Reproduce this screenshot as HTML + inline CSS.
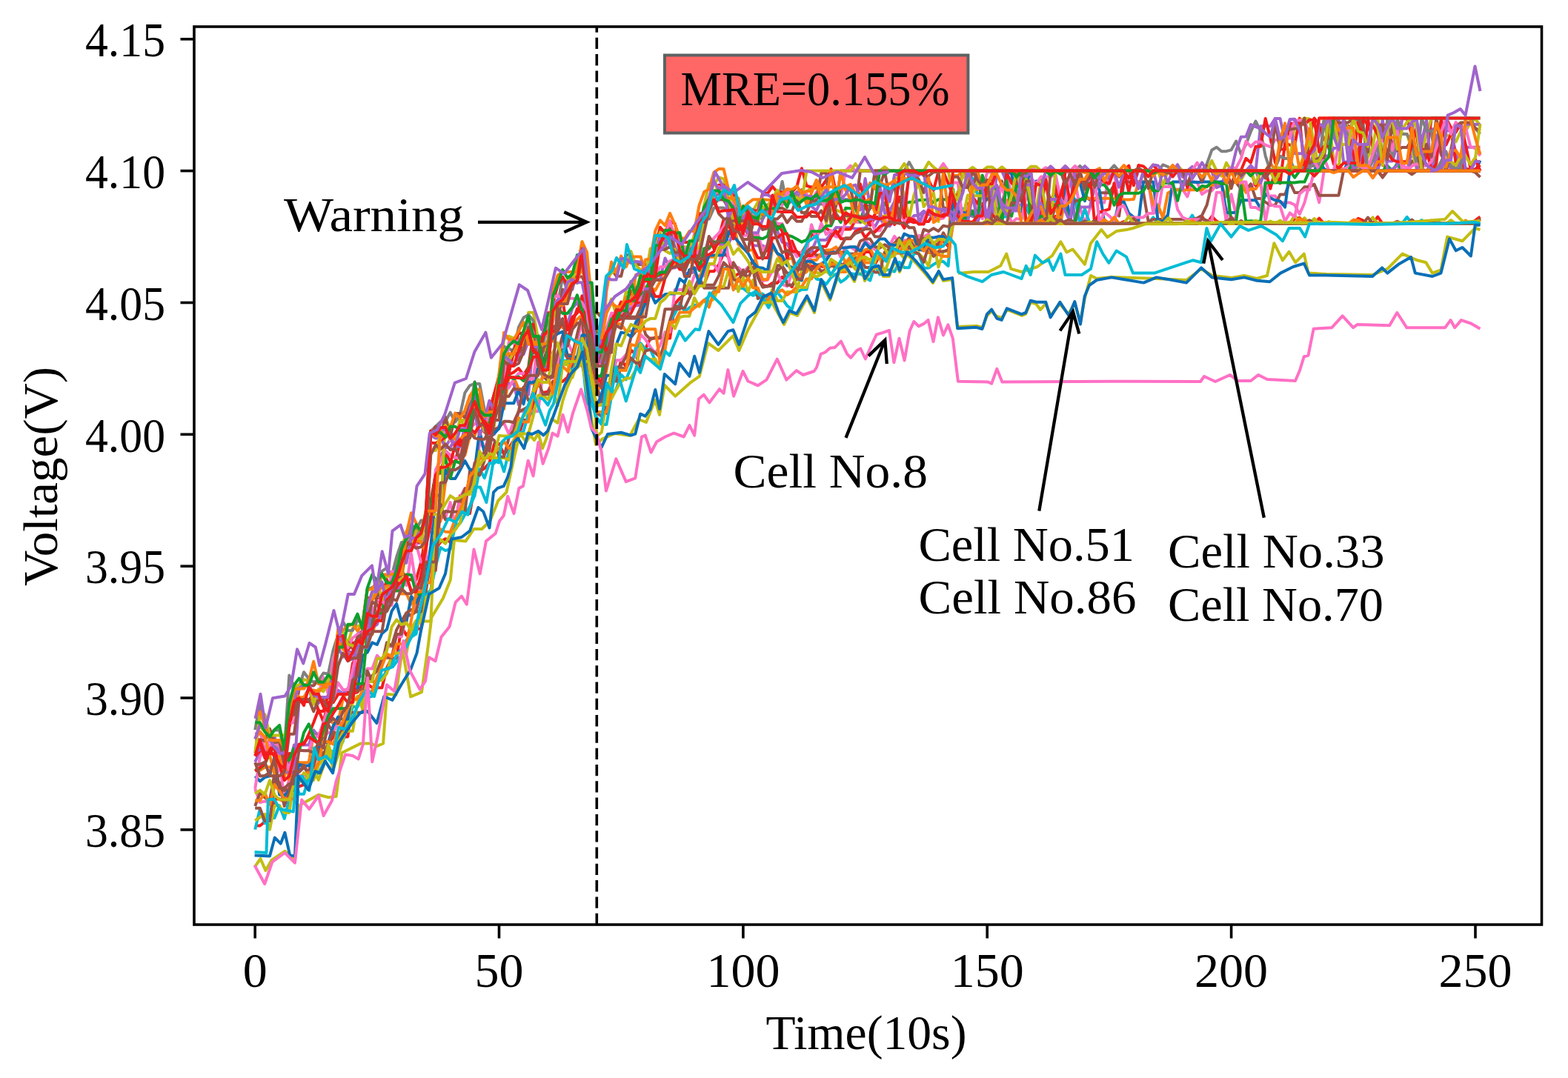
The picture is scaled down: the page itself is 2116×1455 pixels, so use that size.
<!DOCTYPE html>
<html><head><meta charset="utf-8"><title>Voltage chart</title>
<style>
html,body{margin:0;padding:0;background:#fff;}
body{width:2116px;height:1455px;overflow:hidden;}
svg{display:block;filter:blur(0.6px);}
text{font-family:'Liberation Serif','DejaVu Serif',serif;fill:#000;}
</style></head><body>
<svg width="2116" height="1455" viewBox="0 0 2116 1455">
<rect x="0" y="0" width="2116" height="1455" fill="#fff"/>
<defs><clipPath id="ax"><rect x="262.0" y="36.0" width="1818.5" height="1212.0"/></clipPath></defs>
<g clip-path="url(#ax)" fill="none" stroke-width="4.0" stroke-linejoin="round" stroke-linecap="butt">
<polyline points="344.2,1114.5 350.8,1114.5 357.4,1109.3 364.0,1106.6 370.5,1078.6 377.1,1078.6 383.7,1081.9 390.3,1072.9 396.9,1053.1 403.5,1061.6 410.1,1059.2 416.7,1040.6 423.2,1021.4 429.8,1021.4 436.4,1021.1 443.0,1006.2 449.6,992.8 456.2,1008.7 462.8,994.4 469.4,994.4 475.9,935.8 482.5,934.2 489.1,923.1 495.7,923.1 502.3,928.2 508.9,928.2 515.5,928.2 522.0,901.4 528.6,888.4 535.2,888.4 541.8,845.9 548.4,857.2 555.0,849.9 561.6,848.8 568.2,848.8 574.7,803.0 581.3,798.3 587.9,740.8 594.5,731.6 601.1,727.2 607.7,732.0 614.3,708.8 620.9,668.9 627.4,693.1 634.0,693.1 640.6,655.6 647.2,636.5 653.8,632.1 660.4,625.2 667.0,599.1 673.5,599.1 680.1,613.2 686.7,604.9 693.3,594.5 699.9,588.0 706.5,566.9 713.1,566.9 719.7,543.7 726.2,543.7 732.8,529.9 739.4,528.8 746.0,515.1 752.6,515.1 759.2,515.1 765.8,509.3 772.4,491.9 778.9,491.9 785.5,491.9 792.1,517.4 798.7,544.9 805.3,556.2 811.9,556.2 818.5,558.0 825.1,514.1 831.6,514.1 838.2,486.2 844.8,494.8 851.4,472.5 858.0,478.1 864.6,496.7 871.2,470.3 877.7,456.6 884.3,456.6 890.9,456.6 897.5,456.6 904.1,456.6 910.7,410.1 917.3,402.6 923.9,396.9 930.4,393.6 937.0,393.6 943.6,385.0 950.2,383.8 956.8,366.2 963.4,366.2 970.0,357.4 976.6,341.3 983.1,347.3 989.7,373.9 996.3,369.6 1002.9,369.6 1009.5,365.7 1016.1,367.9 1022.7,367.9 1029.2,384.9 1035.8,386.5 1042.4,382.0 1049.0,382.0 1055.6,373.8 1062.2,380.7 1068.8,387.2 1075.4,372.9 1081.9,372.9 1088.5,362.6 1095.1,359.3 1101.7,359.4 1108.3,359.4 1114.9,361.1 1121.5,355.0 1128.1,355.6 1134.6,362.9 1141.2,353.2 1147.8,359.4 1154.4,359.4 1161.0,351.3 1167.6,340.0 1174.2,340.0 1180.7,356.9 1187.3,344.3 1193.9,344.6 1200.5,344.6 1207.1,344.4 1213.7,331.2 1220.3,332.7 1226.9,332.7 1233.4,332.7 1240.0,330.5 1246.6,331.4 1253.2,331.4 1259.8,331.4 1266.4,327.1 1273.0,325.5 1279.6,332.5 1286.1,268.2 1292.7,301.8 1299.3,301.8 1305.9,274.6 1312.5,290.3 1319.1,281.0 1325.7,240.9 1332.2,267.5 1338.8,269.8 1345.4,285.6 1352.0,291.6 1358.6,281.6 1365.2,288.9 1371.8,270.2 1378.4,270.2 1384.9,301.8 1391.5,293.8 1398.1,290.8 1404.7,290.8 1411.3,301.8 1417.9,301.8 1424.5,291.9 1431.1,301.8 1437.6,301.8 1444.2,301.8 1450.8,301.8 1457.4,301.8 1464.0,301.8 1470.6,301.8 1477.2,301.8 1483.8,301.8 1490.3,301.8 1496.9,301.8 1503.5,301.8 1510.1,301.8 1516.7,299.0 1523.3,301.8 1529.9,301.8 1536.4,301.8 1543.0,301.8 1549.6,301.8 1556.2,301.8 1562.8,301.8 1569.4,301.8 1576.0,301.8 1582.6,301.8 1589.1,301.8 1595.7,301.8 1602.3,301.8 1608.9,301.8 1615.5,301.8 1622.1,292.0 1628.7,301.8 1635.3,292.0 1641.8,298.6 1648.4,301.8 1655.0,301.8 1661.6,295.2 1668.2,301.8 1674.8,301.8 1681.4,301.8 1687.9,301.8 1694.5,301.8 1701.1,301.8 1707.7,301.8 1714.3,301.8 1720.9,301.8 1727.5,301.8 1734.1,301.8 1740.6,301.8 1747.2,295.3 1753.8,293.9 1760.4,301.8 1767.0,301.8 1773.6,301.8 1780.2,294.5 1786.8,301.8 1793.3,301.8 1799.9,301.8 1806.5,301.8 1813.1,301.8 1819.7,301.8 1826.3,301.8 1832.9,294.9 1839.4,297.7 1846.0,301.8 1852.6,301.8 1859.2,292.7 1865.8,301.8 1872.4,301.8 1879.0,301.8 1885.6,301.8 1892.1,301.8 1898.7,301.8 1905.3,301.8 1911.9,301.8 1918.5,301.8 1925.1,301.8 1931.7,297.6 1938.3,301.8 1944.8,301.8 1951.4,301.8 1958.0,301.8 1964.6,301.8 1971.2,301.8 1977.8,301.8 1984.4,301.8 1991.0,297.4 1997.5,292.6" stroke="#f21c1c"/>
<polyline points="344.2,1064.7 350.8,1083.0 357.4,1081.6 364.0,1081.9 370.5,1058.9 377.1,1029.8 383.7,1076.3 390.3,1051.8 396.9,1051.8 403.5,1046.7 410.1,1046.7 416.7,1040.6 423.2,1017.0 429.8,1003.8 436.4,994.2 443.0,988.6 449.6,988.6 456.2,975.8 462.8,975.8 469.4,975.8 475.9,917.6 482.5,912.8 489.1,913.0 495.7,902.6 502.3,902.6 508.9,884.7 515.5,892.9 522.0,873.1 528.6,872.2 535.2,859.2 541.8,859.2 548.4,831.0 555.0,831.0 561.6,814.3 568.2,774.0 574.7,769.4 581.3,770.4 587.9,716.8 594.5,698.6 601.1,698.7 607.7,678.1 614.3,709.1 620.9,671.1 627.4,659.1 634.0,659.1 640.6,659.1 647.2,596.1 653.8,606.1 660.4,587.0 667.0,586.2 673.5,574.5 680.1,571.1 686.7,585.8 693.3,569.8 699.9,555.3 706.5,555.3 713.1,555.3 719.7,555.3 726.2,555.3 732.8,502.0 739.4,510.5 746.0,510.5 752.6,491.7 759.2,460.5 765.8,460.5 772.4,476.0 778.9,460.7 785.5,433.6 792.1,495.0 798.7,536.6 805.3,541.2 811.9,547.0 818.5,532.1 825.1,520.6 831.6,486.2 838.2,486.2 844.8,478.9 851.4,485.1 858.0,480.4 864.6,451.4 871.2,458.3 877.7,468.3 884.3,476.6 890.9,466.2 897.5,448.2 904.1,448.2 910.7,391.1 917.3,390.9 923.9,390.9 930.4,390.9 937.0,371.9 943.6,372.3 950.2,372.3 956.8,356.8 963.4,356.8 970.0,367.5 976.6,307.2 983.1,349.3 989.7,361.0 996.3,361.0 1002.9,367.2 1009.5,360.6 1016.1,360.6 1022.7,360.6 1029.2,379.1 1035.8,377.9 1042.4,365.3 1049.0,367.9 1055.6,384.0 1062.2,386.5 1068.8,368.6 1075.4,368.6 1081.9,352.6 1088.5,353.1 1095.1,346.0 1101.7,346.0 1108.3,346.0 1114.9,346.0 1121.5,337.6 1128.1,334.5 1134.6,347.0 1141.2,333.4 1147.8,333.4 1154.4,337.8 1161.0,337.8 1167.6,325.2 1174.2,330.6 1180.7,336.8 1187.3,331.3 1193.9,331.3 1200.5,331.3 1207.1,318.9 1213.7,328.1 1220.3,324.3 1226.9,325.8 1233.4,334.0 1240.0,318.0 1246.6,319.8 1253.2,315.8 1259.8,335.9 1266.4,318.8 1273.0,318.8 1279.6,319.9 1286.1,289.9 1292.7,289.6 1299.3,285.4 1305.9,279.7 1312.5,267.5 1319.1,278.5 1325.7,295.3 1332.2,256.9 1338.8,256.9 1345.4,301.8 1352.0,301.8 1358.6,230.6 1365.2,268.2 1371.8,243.9 1378.4,243.9 1384.9,262.3 1391.5,262.3 1398.1,293.4 1404.7,292.5 1411.3,301.8 1417.9,301.8 1424.5,297.0 1431.1,284.4 1437.6,230.6 1444.2,233.9 1450.8,245.1 1457.4,280.1 1464.0,301.8 1470.6,282.1 1477.2,268.4 1483.8,273.4 1490.3,273.4 1496.9,230.6 1503.5,230.6 1510.1,279.6 1516.7,234.8 1523.3,245.7 1529.9,245.7 1536.4,245.7 1543.0,245.7 1549.6,245.7 1556.2,287.3 1562.8,287.3 1569.4,246.4 1576.0,246.4 1582.6,255.4 1589.1,255.4 1595.7,255.4 1602.3,265.4 1608.9,245.6 1615.5,245.6 1622.1,262.2 1628.7,257.5 1635.3,257.5 1641.8,248.4 1648.4,245.6 1655.0,298.8 1661.6,262.2 1668.2,290.5 1674.8,245.6 1681.4,254.0 1687.9,254.0 1694.5,245.6 1701.1,245.6 1707.7,298.8 1714.3,264.6 1720.9,264.6 1727.5,273.4 1734.1,273.4 1740.6,273.4 1747.2,276.5 1753.8,289.2 1760.4,273.7 1767.0,248.9 1773.6,248.9 1780.2,273.2 1786.8,230.6 1793.3,230.6 1799.9,230.6 1806.5,230.6 1813.1,230.6 1819.7,230.6 1826.3,230.6 1832.9,230.6 1839.4,230.6 1846.0,230.6 1852.6,230.6 1859.2,230.6 1865.8,230.6 1872.4,230.6 1879.0,230.6 1885.6,230.6 1892.1,218.9 1898.7,230.6 1905.3,230.6 1911.9,230.6 1918.5,230.6 1925.1,230.6 1931.7,230.6 1938.3,230.6 1944.8,230.6 1951.4,230.6 1958.0,218.8 1964.6,230.6 1971.2,230.6 1977.8,230.6 1984.4,230.6 1991.0,230.6 1997.5,230.6" stroke="#ff70c4"/>
<polyline points="344.2,1119.6 350.8,1091.9 357.4,1111.1 364.0,1103.9 370.5,1103.9 377.1,1087.1 383.7,1104.9 390.3,1079.3 396.9,1044.2 403.5,1071.7 410.1,1071.7 416.7,1049.0 423.2,1048.4 429.8,1043.5 436.4,1031.2 443.0,1013.4 449.6,1014.2 456.2,1012.7 462.8,1000.5 469.4,976.0 475.9,954.1 482.5,954.1 489.1,941.6 495.7,941.6 502.3,939.9 508.9,918.7 515.5,913.3 522.0,906.8 528.6,896.0 535.2,884.4 541.8,876.2 548.4,864.0 555.0,859.7 561.6,855.6 568.2,817.0 574.7,802.3 581.3,796.5 587.9,764.3 594.5,739.0 601.1,743.1 607.7,741.0 614.3,709.3 620.9,706.4 627.4,694.6 634.0,683.5 640.6,668.9 647.2,633.0 653.8,645.2 660.4,625.2 667.0,625.2 673.5,616.4 680.1,636.4 686.7,609.5 693.3,596.6 699.9,585.5 706.5,581.9 713.1,558.4 719.7,558.4 726.2,535.8 732.8,538.6 739.4,546.6 746.0,532.0 752.6,501.3 759.2,486.8 765.8,487.0 772.4,505.1 778.9,480.7 785.5,480.7 792.1,545.3 798.7,545.3 805.3,564.4 811.9,573.0 818.5,573.0 825.1,534.8 831.6,524.9 838.2,505.7 844.8,512.3 851.4,496.1 858.0,469.3 864.6,463.4 871.2,471.6 877.7,471.6 884.3,486.9 890.9,493.9 897.5,467.9 904.1,434.0 910.7,423.4 917.3,409.1 923.9,420.4 930.4,415.3 937.0,411.7 943.6,411.7 950.2,405.2 956.8,400.0 963.4,392.9 970.0,392.9 976.6,362.6 983.1,360.5 989.7,389.1 996.3,389.1 1002.9,389.1 1009.5,394.4 1016.1,398.9 1022.7,396.6 1029.2,396.6 1035.8,403.1 1042.4,403.1 1049.0,394.0 1055.6,403.0 1062.2,412.7 1068.8,417.5 1075.4,394.2 1081.9,390.8 1088.5,390.8 1095.1,366.6 1101.7,376.5 1108.3,378.0 1114.9,383.7 1121.5,374.6 1128.1,369.8 1134.6,380.8 1141.2,376.4 1147.8,369.2 1154.4,370.1 1161.0,369.4 1167.6,374.1 1174.2,378.7 1180.7,357.6 1187.3,370.5 1193.9,364.1 1200.5,364.5 1207.1,366.6 1213.7,353.9 1220.3,361.2 1226.9,361.2 1233.4,342.1 1240.0,342.1 1246.6,362.1 1253.2,361.5 1259.8,356.9 1266.4,353.1 1273.0,353.1 1279.6,359.0 1286.1,281.5 1292.7,281.5 1299.3,281.5 1305.9,300.0 1312.5,240.6 1319.1,262.7 1325.7,262.7 1332.2,262.7 1338.8,262.7 1345.4,262.7 1352.0,292.5 1358.6,292.5 1365.2,282.1 1371.8,279.9 1378.4,279.9 1384.9,279.9 1391.5,294.7 1398.1,301.8 1404.7,279.9 1411.3,279.9 1417.9,269.6 1424.5,271.4 1431.1,294.1 1437.6,265.7 1444.2,268.4 1450.8,268.4 1457.4,301.8 1464.0,281.9 1470.6,301.8 1477.2,301.8 1483.8,301.7 1490.3,301.8 1496.9,301.8 1503.5,301.8 1510.1,301.8 1516.7,301.8 1523.3,301.8 1529.9,301.8 1536.4,301.8 1543.0,301.8 1549.6,301.8 1556.2,293.4 1562.8,301.8 1569.4,298.7 1576.0,301.8 1582.6,301.8 1589.1,301.8 1595.7,301.8 1602.3,301.8 1608.9,290.6 1615.5,301.8 1622.1,301.8 1628.7,301.8 1635.3,301.8 1641.8,301.8 1648.4,301.8 1655.0,301.8 1661.6,301.8 1668.2,301.8 1674.8,301.8 1681.4,301.8 1687.9,301.8 1694.5,301.8 1701.1,301.8 1707.7,301.8 1714.3,301.8 1720.9,301.8 1727.5,301.8 1734.1,301.8 1740.6,301.8 1747.2,301.8 1753.8,301.8 1760.4,301.8 1767.0,301.8 1773.6,301.8 1780.2,301.8 1786.8,301.8 1793.3,301.8 1799.9,301.8 1806.5,301.8 1813.1,301.8 1819.7,301.8 1826.3,301.8 1832.9,301.8 1839.4,301.8 1846.0,301.8 1852.6,301.8 1859.2,301.8 1865.8,301.8 1872.4,301.8 1879.0,301.8 1885.6,301.8 1892.1,301.8 1898.7,292.9 1905.3,301.8 1911.9,301.8 1918.5,297.1 1925.1,301.8 1931.7,301.8 1938.3,297.0 1944.8,301.8 1951.4,301.8 1958.0,301.8 1964.6,301.8 1971.2,301.8 1977.8,299.5 1984.4,301.8 1991.0,301.8 1997.5,301.8" stroke="#00bcd4"/>
<polyline points="344.2,1088.0 350.8,1070.1 357.4,1076.6 364.0,1080.6 370.5,1044.3 377.1,1066.8 383.7,1066.8 390.3,1065.3 396.9,1042.0 403.5,1042.0 410.1,1036.0 416.7,1043.3 423.2,1017.0 429.8,1017.0 436.4,989.5 443.0,978.1 449.6,989.3 456.2,989.3 462.8,989.3 469.4,961.8 475.9,961.8 482.5,961.8 489.1,961.8 495.7,905.4 502.3,920.1 508.9,920.1 515.5,896.3 522.0,867.2 528.6,871.9 535.2,850.0 541.8,838.3 548.4,827.5 555.0,830.8 561.6,825.0 568.2,798.4 574.7,798.4 581.3,757.0 587.9,718.3 594.5,700.5 601.1,690.1 607.7,690.7 614.3,690.7 620.9,690.7 627.4,690.7 634.0,636.1 640.6,634.4 647.2,641.6 653.8,621.2 660.4,593.0 667.0,579.1 673.5,577.3 680.1,568.7 686.7,568.7 693.3,570.2 699.9,555.6 706.5,552.6 713.1,548.6 719.7,527.7 726.2,499.4 732.8,507.6 739.4,514.0 746.0,505.6 752.6,476.5 759.2,453.4 765.8,479.2 772.4,479.2 778.9,451.2 785.5,424.8 792.1,504.8 798.7,519.5 805.3,519.5 811.9,545.6 818.5,517.6 825.1,517.6 831.6,496.5 838.2,492.9 844.8,481.4 851.4,455.6 858.0,447.3 864.6,428.1 871.2,451.3 877.7,458.1 884.3,455.4 890.9,455.4 897.5,417.2 904.1,417.2 910.7,417.2 917.3,417.2 923.9,384.3 930.4,397.2 937.0,389.5 943.6,374.6 950.2,388.7 956.8,388.7 963.4,388.7 970.0,388.7 976.6,388.7 983.1,388.7 989.7,354.3 996.3,365.0 1002.9,374.6 1009.5,362.5 1016.1,351.9 1022.7,374.5 1029.2,387.7 1035.8,386.3 1042.4,386.3 1049.0,365.8 1055.6,359.2 1062.2,368.7 1068.8,368.7 1075.4,368.4 1081.9,348.2 1088.5,346.6 1095.1,338.2 1101.7,344.4 1108.3,344.4 1114.9,339.7 1121.5,339.7 1128.1,340.6 1134.6,340.9 1141.2,340.3 1147.8,342.8 1154.4,342.2 1161.0,325.3 1167.6,322.5 1174.2,322.5 1180.7,333.0 1187.3,334.6 1193.9,330.2 1200.5,335.0 1207.1,328.2 1213.7,321.2 1220.3,330.6 1226.9,320.8 1233.4,334.2 1240.0,324.3 1246.6,321.7 1253.2,327.2 1259.8,327.2 1266.4,332.1 1273.0,314.3 1279.6,326.3 1286.1,270.3 1292.7,288.9 1299.3,255.5 1305.9,236.1 1312.5,254.2 1319.1,230.7 1325.7,260.9 1332.2,269.5 1338.8,243.5 1345.4,272.4 1352.0,244.4 1358.6,281.9 1365.2,287.9 1371.8,239.7 1378.4,256.6 1384.9,244.7 1391.5,237.3 1398.1,301.8 1404.7,301.8 1411.3,301.8 1417.9,301.8 1424.5,276.0 1431.1,276.0 1437.6,278.5 1444.2,287.5 1450.8,270.9 1457.4,270.9 1464.0,263.7 1470.6,269.8 1477.2,269.8 1483.8,260.2 1490.3,260.2 1496.9,260.2 1503.5,250.1 1510.1,291.6 1516.7,245.6 1523.3,245.6 1529.9,245.6 1536.4,245.6 1543.0,259.9 1549.6,298.8 1556.2,296.1 1562.8,296.1 1569.4,296.1 1576.0,296.1 1582.6,296.1 1589.1,296.1 1595.7,296.1 1602.3,296.1 1608.9,296.1 1615.5,294.4 1622.1,290.7 1628.7,276.6 1635.3,248.1 1641.8,248.1 1648.4,245.6 1655.0,246.0 1661.6,246.0 1668.2,246.0 1674.8,255.6 1681.4,255.6 1687.9,248.2 1694.5,268.1 1701.1,268.1 1707.7,272.9 1714.3,276.9 1720.9,276.9 1727.5,262.4 1734.1,262.4 1740.6,245.6 1747.2,260.0 1753.8,260.0 1760.4,252.3 1767.0,252.3 1773.6,248.9 1780.2,263.7 1786.8,263.7 1793.3,263.7 1799.9,263.7 1806.5,263.7 1813.1,230.6 1819.7,230.6 1826.3,228.3 1832.9,227.3 1839.4,225.5 1846.0,230.6 1852.6,227.2 1859.2,222.9 1865.8,220.9 1872.4,230.6 1879.0,230.6 1885.6,230.6 1892.1,230.6 1898.7,230.6 1905.3,217.4 1911.9,221.9 1918.5,230.6 1925.1,230.6 1931.7,222.2 1938.3,230.6 1944.8,230.6 1951.4,230.6 1958.0,230.6 1964.6,230.6 1971.2,230.6 1977.8,227.0 1984.4,230.6 1991.0,230.6 1997.5,230.6" stroke="#9a5246"/>
<polyline points="344.2,1107.6 350.8,1103.0 357.4,1098.9 364.0,1119.7 370.5,1087.6 377.1,1087.6 383.7,1096.9 390.3,1096.9 396.9,1055.1 403.5,1052.6 410.1,1052.9 416.7,1047.5 423.2,1052.9 429.8,1033.2 436.4,1024.3 443.0,1015.0 449.6,1037.8 456.2,1019.9 462.8,998.6 469.4,972.2 475.9,948.3 482.5,939.6 489.1,956.5 495.7,936.6 502.3,934.1 508.9,918.0 515.5,918.2 522.0,908.8 528.6,883.0 535.2,881.6 541.8,881.6 548.4,882.1 555.0,847.8 561.6,837.6 568.2,837.6 574.7,806.5 581.3,800.8 587.9,738.8 594.5,728.1 601.1,733.7 607.7,721.5 614.3,715.0 620.9,705.5 627.4,665.5 634.0,664.5 640.6,632.4 647.2,627.8 653.8,617.9 660.4,617.9 667.0,617.9 673.5,617.9 680.1,617.9 686.7,620.9 693.3,593.5 699.9,585.6 706.5,585.6 713.1,585.6 719.7,561.4 726.2,533.4 732.8,533.4 739.4,538.9 746.0,527.5 752.6,547.4 759.2,492.0 765.8,492.0 772.4,509.7 778.9,489.8 785.5,488.1 792.1,488.1 798.7,488.1 805.3,589.1 811.9,583.3 818.5,541.5 825.1,538.2 831.6,525.9 838.2,515.0 844.8,510.6 851.4,510.6 858.0,498.9 864.6,464.9 871.2,481.5 877.7,485.3 884.3,484.4 890.9,498.2 897.5,456.7 904.1,433.3 910.7,443.4 917.3,428.0 923.9,426.7 930.4,426.7 937.0,402.0 943.6,413.9 950.2,405.3 956.8,407.9 963.4,403.5 970.0,386.8 976.6,386.8 983.1,364.9 989.7,364.9 996.3,393.5 1002.9,374.6 1009.5,393.6 1016.1,378.1 1022.7,399.5 1029.2,399.5 1035.8,410.0 1042.4,390.2 1049.0,405.9 1055.6,405.9 1062.2,394.1 1068.8,394.1 1075.4,394.1 1081.9,363.6 1088.5,359.2 1095.1,367.8 1101.7,367.8 1108.3,369.2 1114.9,365.5 1121.5,372.0 1128.1,358.9 1134.6,360.8 1141.2,360.8 1147.8,350.1 1154.4,346.1 1161.0,355.2 1167.6,349.9 1174.2,349.9 1180.7,349.0 1187.3,348.0 1193.9,367.9 1200.5,349.0 1207.1,340.7 1213.7,340.7 1220.3,349.0 1226.9,339.6 1233.4,339.6 1240.0,342.4 1246.6,348.6 1253.2,359.2 1259.8,326.5 1266.4,360.5 1273.0,339.1 1279.6,339.1 1286.1,282.6 1292.7,258.1 1299.3,294.6 1305.9,263.5 1312.5,263.5 1319.1,245.1 1325.7,256.4 1332.2,301.8 1338.8,301.8 1345.4,292.1 1352.0,270.1 1358.6,276.1 1365.2,276.1 1371.8,279.7 1378.4,279.7 1384.9,301.8 1391.5,290.0 1398.1,301.8 1404.7,301.8 1411.3,301.8 1417.9,301.8 1424.5,301.8 1431.1,298.1 1437.6,301.8 1444.2,301.8 1450.8,301.8 1457.4,301.8 1464.0,301.8 1470.6,301.8 1477.2,301.8 1483.8,301.8 1490.3,301.8 1496.9,301.8 1503.5,301.8 1510.1,301.8 1516.7,301.8 1523.3,301.8 1529.9,301.8 1536.4,301.8 1543.0,301.8 1549.6,301.8 1556.2,301.8 1562.8,301.8 1569.4,301.8 1576.0,292.4 1582.6,301.8 1589.1,301.8 1595.7,301.8 1602.3,301.8 1608.9,301.8 1615.5,301.8 1622.1,301.8 1628.7,301.8 1635.3,301.8 1641.8,301.8 1648.4,301.8 1655.0,301.8 1661.6,301.8 1668.2,301.8 1674.8,301.8 1681.4,301.8 1687.9,301.8 1694.5,301.8 1701.1,301.8 1707.7,301.8 1714.3,298.6 1720.9,301.8 1727.5,297.6 1734.1,301.8 1740.6,301.8 1747.2,290.3 1753.8,301.8 1760.4,294.0 1767.0,301.8 1773.6,295.0 1780.2,301.8 1786.8,301.8 1793.3,299.1 1799.9,301.8 1806.5,301.8 1813.1,301.8 1819.7,301.8 1826.3,301.8 1832.9,301.8 1839.4,301.8 1846.0,301.8 1852.6,293.4 1859.2,301.8 1865.8,301.8 1872.4,301.8 1879.0,301.8 1885.6,301.8 1892.1,301.8 1898.7,301.8 1905.3,301.8 1911.9,301.8 1918.5,301.8 1925.1,301.8 1931.7,301.8 1938.3,301.8 1944.8,301.8 1951.4,301.8 1958.0,301.8 1964.6,301.8 1971.2,301.8 1977.8,297.4 1984.4,301.8 1991.0,301.8 1997.5,296.0" stroke="#c2bd12"/>
<polyline points="344.2,1037.6 350.8,1039.7 357.4,1035.5 364.0,1035.2 370.5,1032.8 377.1,1027.3 383.7,1027.3 390.3,1051.7 396.9,1025.5 403.5,1029.3 410.1,1029.3 416.7,1029.3 423.2,990.3 429.8,990.3 436.4,993.0 443.0,969.3 449.6,976.5 456.2,976.5 462.8,942.6 469.4,933.7 475.9,916.0 482.5,901.3 489.1,867.8 495.7,862.2 502.3,856.1 508.9,832.5 515.5,832.5 522.0,788.0 528.6,784.7 535.2,784.7 541.8,801.5 548.4,801.2 555.0,815.7 561.6,805.4 568.2,805.0 574.7,734.1 581.3,703.4 587.9,703.4 594.5,703.4 601.1,650.6 607.7,627.9 614.3,621.8 620.9,615.8 627.4,614.5 634.0,588.5 640.6,588.5 647.2,567.1 653.8,583.8 660.4,583.4 667.0,561.3 673.5,509.4 680.1,552.0 686.7,509.5 693.3,509.5 699.9,524.9 706.5,524.5 713.1,517.8 719.7,517.8 726.2,461.3 732.8,474.6 739.4,458.9 746.0,460.5 752.6,426.8 759.2,442.1 765.8,442.1 772.4,440.4 778.9,430.9 785.5,424.9 792.1,453.7 798.7,493.1 805.3,523.9 811.9,523.9 818.5,500.0 825.1,467.2 831.6,436.6 838.2,437.5 844.8,446.8 851.4,446.8 858.0,446.8 864.6,446.8 871.2,387.0 877.7,387.2 884.3,392.0 890.9,379.9 897.5,372.2 904.1,355.4 910.7,355.4 917.3,363.3 923.9,363.3 930.4,344.9 937.0,367.5 943.6,376.5 950.2,357.8 956.8,346.7 963.4,346.7 970.0,341.8 976.6,314.2 983.1,319.0 989.7,302.4 996.3,329.8 1002.9,335.3 1009.5,337.5 1016.1,337.5 1022.7,361.1 1029.2,377.2 1035.8,377.2 1042.4,333.7 1049.0,341.8 1055.6,353.2 1062.2,350.2 1068.8,348.1 1075.4,371.0 1081.9,370.4 1088.5,367.0 1095.1,351.0 1101.7,351.0 1108.3,342.2 1114.9,337.6 1121.5,337.6 1128.1,333.4 1134.6,340.1 1141.2,354.9 1147.8,346.2 1154.4,342.5 1161.0,342.9 1167.6,337.1 1174.2,335.1 1180.7,348.7 1187.3,348.7 1193.9,348.7 1200.5,337.8 1207.1,329.6 1213.7,329.6 1220.3,327.2 1226.9,324.4 1233.4,324.4 1240.0,337.8 1246.6,331.5 1253.2,341.1 1259.8,341.1 1266.4,343.5 1273.0,318.3 1279.6,327.1 1286.1,236.9 1292.7,236.9 1299.3,230.6 1305.9,245.1 1312.5,230.6 1319.1,231.3 1325.7,250.8 1332.2,244.4 1338.8,250.7 1345.4,286.5 1352.0,272.7 1358.6,272.7 1365.2,263.2 1371.8,263.2 1378.4,251.3 1384.9,251.3 1391.5,251.3 1398.1,251.3 1404.7,240.7 1411.3,247.5 1417.9,270.9 1424.5,279.1 1431.1,301.8 1437.6,267.1 1444.2,242.9 1450.8,232.5 1457.4,232.5 1464.0,267.8 1470.6,267.8 1477.2,267.8 1483.8,267.8 1490.3,267.8 1496.9,267.8 1503.5,267.8 1510.1,267.8 1516.7,269.6 1523.3,269.6 1529.9,269.0 1536.4,245.6 1543.0,245.6 1549.6,245.6 1556.2,276.6 1562.8,276.6 1569.4,294.5 1576.0,260.7 1582.6,256.5 1589.1,256.5 1595.7,256.5 1602.3,256.3 1608.9,256.3 1615.5,256.3 1622.1,256.3 1628.7,251.2 1635.3,249.6 1641.8,249.6 1648.4,250.3 1655.0,265.5 1661.6,245.6 1668.2,245.6 1674.8,245.6 1681.4,259.8 1687.9,255.1 1694.5,255.1 1701.1,245.6 1707.7,230.6 1714.3,219.7 1720.9,230.6 1727.5,228.3 1734.1,230.6 1740.6,230.6 1747.2,225.5 1753.8,230.6 1760.4,230.6 1767.0,230.6 1773.6,230.6 1780.2,230.6 1786.8,230.6 1793.3,230.6 1799.9,230.6 1806.5,222.3 1813.1,230.6 1819.7,230.6 1826.3,230.6 1832.9,230.6 1839.4,218.6 1846.0,230.6 1852.6,230.6 1859.2,230.6 1865.8,230.6 1872.4,230.6 1879.0,230.6 1885.6,230.6 1892.1,230.6 1898.7,228.4 1905.3,230.6 1911.9,230.6 1918.5,230.6 1925.1,230.6 1931.7,225.5 1938.3,230.6 1944.8,230.6 1951.4,230.6 1958.0,230.6 1964.6,230.6 1971.2,230.6 1977.8,230.6 1984.4,230.6 1991.0,230.6 1997.5,230.6" stroke="#ff7f0e"/>
<polyline points="344.2,1028.5 350.8,1014.7 357.4,1015.3 364.0,1015.5 370.5,993.4 377.1,1026.7 383.7,1019.2 390.3,1029.8 396.9,1005.6 403.5,1005.6 410.1,1005.6 416.7,1005.6 423.2,985.5 429.8,994.2 436.4,976.3 443.0,969.3 449.6,938.8 456.2,931.6 462.8,936.4 469.4,929.2 475.9,929.2 482.5,855.7 489.1,852.1 495.7,849.4 502.3,846.9 508.9,842.8 515.5,823.6 522.0,815.7 528.6,801.5 535.2,795.8 541.8,791.5 548.4,778.8 555.0,796.8 561.6,796.8 568.2,788.9 574.7,743.3 581.3,682.7 587.9,640.6 594.5,615.6 601.1,604.0 607.7,604.0 614.3,591.7 620.9,602.9 627.4,584.8 634.0,564.8 640.6,544.0 647.2,553.3 653.8,573.0 660.4,560.5 667.0,542.2 673.5,536.7 680.1,517.8 686.7,517.8 693.3,517.8 699.9,546.4 706.5,532.8 713.1,532.8 719.7,459.5 726.2,464.6 732.8,449.0 739.4,436.3 746.0,425.8 752.6,425.8 759.2,437.4 765.8,437.4 772.4,416.0 778.9,408.2 785.5,422.8 792.1,450.1 798.7,483.9 805.3,517.3 811.9,504.7 818.5,489.5 825.1,459.0 831.6,416.6 838.2,424.7 844.8,424.7 851.4,413.8 858.0,411.4 864.6,376.9 871.2,378.2 877.7,378.2 884.3,376.4 890.9,377.1 897.5,348.5 904.1,361.4 910.7,361.4 917.3,359.2 923.9,369.0 930.4,369.0 937.0,366.9 943.6,356.9 950.2,344.6 956.8,321.7 963.4,329.2 970.0,329.2 976.6,329.2 983.1,329.2 989.7,314.9 996.3,311.2 1002.9,306.6 1009.5,315.4 1016.1,331.4 1022.7,331.4 1029.2,331.4 1035.8,336.6 1042.4,311.8 1049.0,311.8 1055.6,326.8 1062.2,329.0 1068.8,340.6 1075.4,340.6 1081.9,342.1 1088.5,338.9 1095.1,338.9 1101.7,324.0 1108.3,324.0 1114.9,324.0 1121.5,315.7 1128.1,307.1 1134.6,307.3 1141.2,307.3 1147.8,307.3 1154.4,308.7 1161.0,308.7 1167.6,307.6 1174.2,300.1 1180.7,306.0 1187.3,294.4 1193.9,304.3 1200.5,305.3 1207.1,297.3 1213.7,299.4 1220.3,302.5 1226.9,299.7 1233.4,290.9 1240.0,290.7 1246.6,284.8 1253.2,289.7 1259.8,289.3 1266.4,289.3 1273.0,291.1 1279.6,278.9 1286.1,269.8 1292.7,279.8 1299.3,299.9 1305.9,288.7 1312.5,292.2 1319.1,292.6 1325.7,283.9 1332.2,283.9 1338.8,292.3 1345.4,230.6 1352.0,230.6 1358.6,246.4 1365.2,276.6 1371.8,276.6 1378.4,276.6 1384.9,276.6 1391.5,280.6 1398.1,280.6 1404.7,280.6 1411.3,301.8 1417.9,283.2 1424.5,278.6 1431.1,271.3 1437.6,282.1 1444.2,230.6 1450.8,301.8 1457.4,279.5 1464.0,279.5 1470.6,279.5 1477.2,253.8 1483.8,230.6 1490.3,230.6 1496.9,230.6 1503.5,230.6 1510.1,230.6 1516.7,230.6 1523.3,230.6 1529.9,249.0 1536.4,230.6 1543.0,230.6 1549.6,230.6 1556.2,230.6 1562.8,230.6 1569.4,230.6 1576.0,230.6 1582.6,230.6 1589.1,230.6 1595.7,230.6 1602.3,230.6 1608.9,224.9 1615.5,230.6 1622.1,245.9 1628.7,230.6 1635.3,230.6 1641.8,253.3 1648.4,250.1 1655.0,230.6 1661.6,230.6 1668.2,230.6 1674.8,230.6 1681.4,230.6 1687.9,223.4 1694.5,230.6 1701.1,247.0 1707.7,230.6 1714.3,230.6 1720.9,239.8 1727.5,230.6 1734.1,230.6 1740.6,230.6 1747.2,230.6 1753.8,230.6 1760.4,230.6 1767.0,230.6 1773.6,200.7 1780.2,182.1 1786.8,163.3 1793.3,163.3 1799.9,172.9 1806.5,159.5 1813.1,218.5 1819.7,218.5 1826.3,230.6 1832.9,206.2 1839.4,168.3 1846.0,206.8 1852.6,206.8 1859.2,229.8 1865.8,208.8 1872.4,217.4 1879.0,217.4 1885.6,195.9 1892.1,230.6 1898.7,230.6 1905.3,205.4 1911.9,223.1 1918.5,185.1 1925.1,174.2 1931.7,174.2 1938.3,174.2 1944.8,165.9 1951.4,176.6 1958.0,176.6 1964.6,206.3 1971.2,230.3 1977.8,198.8 1984.4,198.8 1991.0,198.8 1997.5,198.8" stroke="#a064cc"/>
<polyline points="344.2,1047.6 350.8,1054.4 357.4,1049.2 364.0,1047.3 370.5,1020.9 377.1,1072.5 383.7,1074.1 390.3,1066.8 396.9,1066.8 403.5,1031.7 410.1,1033.4 416.7,1033.4 423.2,1027.9 429.8,1008.1 436.4,1002.1 443.0,1002.1 449.6,980.2 456.2,967.7 462.8,971.2 469.4,970.6 475.9,930.2 482.5,930.2 489.1,885.5 495.7,880.5 502.3,867.3 508.9,870.0 515.5,855.0 522.0,849.4 528.6,824.9 535.2,814.8 541.8,839.3 548.4,839.3 555.0,805.0 561.6,813.4 568.2,801.5 574.7,784.2 581.3,736.7 587.9,667.9 594.5,669.2 601.1,634.4 607.7,645.9 614.3,645.9 620.9,634.4 627.4,622.1 634.0,633.7 640.6,633.7 647.2,581.6 653.8,610.7 660.4,591.0 667.0,584.8 673.5,578.3 680.1,544.2 686.7,544.2 693.3,544.2 699.9,526.7 706.5,545.4 713.1,516.3 719.7,516.3 726.2,497.2 732.8,490.7 739.4,465.9 746.0,456.1 752.6,450.3 759.2,447.5 765.8,482.1 772.4,482.1 778.9,482.1 785.5,452.4 792.1,452.4 798.7,524.4 805.3,549.7 811.9,531.8 818.5,506.7 825.1,506.7 831.6,465.3 838.2,448.6 844.8,449.9 851.4,454.1 858.0,435.1 864.6,424.4 871.2,408.5 877.7,394.8 884.3,408.9 890.9,402.5 897.5,397.2 904.1,396.5 910.7,396.5 917.3,376.3 923.9,381.6 930.4,364.2 937.0,361.3 943.6,383.3 950.2,363.0 956.8,344.5 963.4,344.5 970.0,344.5 976.6,344.5 983.1,312.3 989.7,318.6 996.3,326.2 1002.9,334.5 1009.5,341.6 1016.1,353.9 1022.7,361.1 1029.2,361.7 1035.8,365.2 1042.4,328.9 1049.0,342.0 1055.6,345.5 1062.2,358.3 1068.8,360.8 1075.4,375.6 1081.9,378.5 1088.5,352.8 1095.1,352.8 1101.7,357.7 1108.3,356.6 1114.9,351.4 1121.5,341.1 1128.1,341.1 1134.6,334.6 1141.2,334.6 1147.8,333.2 1154.4,333.2 1161.0,339.3 1167.6,327.6 1174.2,334.9 1180.7,329.3 1187.3,322.4 1193.9,322.4 1200.5,329.9 1207.1,331.0 1213.7,329.7 1220.3,315.6 1226.9,318.5 1233.4,319.2 1240.0,336.8 1246.6,338.1 1253.2,320.6 1259.8,320.7 1266.4,319.4 1273.0,319.0 1279.6,328.0 1286.1,274.3 1292.7,286.5 1299.3,286.5 1305.9,288.6 1312.5,288.6 1319.1,285.8 1325.7,279.2 1332.2,265.7 1338.8,248.5 1345.4,287.9 1352.0,288.4 1358.6,230.6 1365.2,234.9 1371.8,276.0 1378.4,294.6 1384.9,230.6 1391.5,247.3 1398.1,244.5 1404.7,244.5 1411.3,301.8 1417.9,268.9 1424.5,260.7 1431.1,289.1 1437.6,248.4 1444.2,301.8 1450.8,246.8 1457.4,246.8 1464.0,271.2 1470.6,237.1 1477.2,230.6 1483.8,257.6 1490.3,300.3 1496.9,300.3 1503.5,300.3 1510.1,273.0 1516.7,272.6 1523.3,287.8 1529.9,293.1 1536.4,298.8 1543.0,245.6 1549.6,245.6 1556.2,245.6 1562.8,298.8 1569.4,298.8 1576.0,290.0 1582.6,245.6 1589.1,245.6 1595.7,245.6 1602.3,245.6 1608.9,245.6 1615.5,246.3 1622.1,245.6 1628.7,245.6 1635.3,245.6 1641.8,245.6 1648.4,245.6 1655.0,287.1 1661.6,287.1 1668.2,287.1 1674.8,270.2 1681.4,270.2 1687.9,270.2 1694.5,270.2 1701.1,281.3 1707.7,261.8 1714.3,267.3 1720.9,270.3 1727.5,271.4 1734.1,279.6 1740.6,230.6 1747.2,230.6 1753.8,230.6 1760.4,223.7 1767.0,230.6 1773.6,230.6 1780.2,216.8 1786.8,228.1 1793.3,230.6 1799.9,230.6 1806.5,230.6 1813.1,230.6 1819.7,217.6 1826.3,222.7 1832.9,230.6 1839.4,223.9 1846.0,230.6 1852.6,230.6 1859.2,230.6 1865.8,230.6 1872.4,230.6 1879.0,230.6 1885.6,230.6 1892.1,230.6 1898.7,230.6 1905.3,230.6 1911.9,230.6 1918.5,230.6 1925.1,230.6 1931.7,230.6 1938.3,230.6 1944.8,225.1 1951.4,230.6 1958.0,230.6 1964.6,230.6 1971.2,230.6 1977.8,230.6 1984.4,230.6 1991.0,230.6 1997.5,216.7" stroke="#0a6fb6"/>
<polyline points="344.2,1020.5 350.8,1013.6 357.4,997.0 364.0,988.5 370.5,1003.4 377.1,1028.0 383.7,1044.9 390.3,1016.9 396.9,1016.9 403.5,1004.6 410.1,1004.6 416.7,990.9 423.2,975.3 429.8,957.7 436.4,973.9 443.0,948.1 449.6,948.1 456.2,937.1 462.8,937.1 469.4,937.1 475.9,895.6 482.5,884.6 489.1,851.4 495.7,843.9 502.3,835.4 508.9,829.1 515.5,809.4 522.0,824.5 528.6,783.7 535.2,772.7 541.8,769.5 548.4,781.0 555.0,782.6 561.6,782.6 568.2,759.0 574.7,721.9 581.3,676.5 587.9,638.8 594.5,638.8 601.1,610.6 607.7,623.2 614.3,623.2 620.9,596.2 627.4,593.4 634.0,561.9 640.6,561.9 647.2,561.9 653.8,582.4 660.4,554.3 667.0,531.5 673.5,510.7 680.1,496.6 686.7,505.7 693.3,502.4 699.9,497.1 706.5,506.2 713.1,495.7 719.7,449.5 726.2,456.0 732.8,456.0 739.4,422.2 746.0,421.7 752.6,416.8 759.2,405.0 765.8,445.6 772.4,428.1 778.9,422.8 785.5,399.2 792.1,433.0 798.7,485.8 805.3,507.9 811.9,518.4 818.5,466.5 825.1,446.6 831.6,421.7 838.2,407.6 844.8,416.1 851.4,412.2 858.0,412.2 864.6,407.1 871.2,407.1 877.7,382.0 884.3,373.9 890.9,370.5 897.5,368.3 904.1,353.1 910.7,353.1 917.3,353.6 923.9,353.0 930.4,353.0 937.0,338.5 943.6,359.3 950.2,343.7 956.8,343.7 963.4,339.4 970.0,320.6 976.6,296.3 983.1,296.3 989.7,301.9 996.3,301.8 1002.9,296.8 1009.5,317.3 1016.1,315.4 1022.7,323.8 1029.2,341.4 1035.8,337.9 1042.4,302.1 1049.0,302.1 1055.6,312.1 1062.2,349.9 1068.8,325.4 1075.4,341.3 1081.9,341.3 1088.5,330.0 1095.1,316.7 1101.7,316.7 1108.3,311.3 1114.9,308.2 1121.5,312.9 1128.1,318.9 1134.6,309.4 1141.2,309.4 1147.8,309.4 1154.4,297.1 1161.0,300.2 1167.6,296.0 1174.2,304.1 1180.7,293.6 1187.3,292.6 1193.9,292.5 1200.5,284.8 1207.1,303.1 1213.7,293.6 1220.3,284.2 1226.9,298.1 1233.4,300.4 1240.0,299.0 1246.6,298.9 1253.2,298.9 1259.8,288.1 1266.4,295.5 1273.0,289.4 1279.6,290.4 1286.1,261.7 1292.7,265.4 1299.3,230.6 1305.9,250.7 1312.5,265.9 1319.1,274.4 1325.7,274.4 1332.2,300.4 1338.8,289.3 1345.4,296.6 1352.0,296.6 1358.6,233.9 1365.2,247.2 1371.8,252.6 1378.4,243.7 1384.9,261.4 1391.5,276.6 1398.1,301.8 1404.7,283.2 1411.3,241.5 1417.9,279.0 1424.5,249.9 1431.1,288.8 1437.6,230.6 1444.2,230.6 1450.8,234.3 1457.4,243.2 1464.0,249.5 1470.6,230.6 1477.2,301.1 1483.8,286.5 1490.3,284.4 1496.9,282.3 1503.5,247.3 1510.1,283.9 1516.7,230.6 1523.3,259.0 1529.9,230.6 1536.4,230.6 1543.0,230.6 1549.6,230.6 1556.2,222.6 1562.8,230.6 1569.4,230.6 1576.0,230.6 1582.6,230.6 1589.1,228.4 1595.7,230.6 1602.3,253.2 1608.9,230.6 1615.5,230.6 1622.1,230.6 1628.7,224.5 1635.3,230.6 1641.8,230.6 1648.4,230.6 1655.0,230.6 1661.6,230.6 1668.2,230.6 1674.8,230.6 1681.4,230.6 1687.9,230.6 1694.5,250.4 1701.1,230.6 1707.7,230.6 1714.3,254.6 1720.9,230.6 1727.5,247.4 1734.1,192.8 1740.6,195.8 1747.2,195.8 1753.8,159.6 1760.4,230.6 1767.0,184.9 1773.6,159.5 1780.2,167.1 1786.8,188.4 1793.3,188.4 1799.9,159.5 1806.5,185.6 1813.1,176.4 1819.7,169.8 1826.3,218.8 1832.9,159.5 1839.4,230.6 1846.0,159.5 1852.6,201.4 1859.2,222.5 1865.8,168.6 1872.4,168.6 1879.0,195.8 1885.6,191.9 1892.1,160.3 1898.7,160.3 1905.3,182.5 1911.9,182.5 1918.5,228.1 1925.1,210.3 1931.7,159.5 1938.3,159.5 1944.8,159.5 1951.4,159.5 1958.0,171.9 1964.6,219.9 1971.2,219.9 1977.8,228.4 1984.4,228.4 1991.0,228.4 1997.5,222.8" stroke="#f21c1c"/>
<polyline points="344.2,1064.8 350.8,1021.7 357.4,1010.2 364.0,998.3 370.5,1001.5 377.1,1024.6 383.7,1018.8 390.3,1041.1 396.9,1010.6 403.5,1013.1 410.1,1013.1 416.7,1013.1 423.2,994.5 429.8,994.5 436.4,975.4 443.0,955.6 449.6,943.7 456.2,921.3 462.8,931.0 469.4,931.0 475.9,903.9 482.5,876.2 489.1,863.3 495.7,854.8 502.3,825.6 508.9,811.7 515.5,811.7 522.0,816.9 528.6,816.9 535.2,780.1 541.8,778.0 548.4,790.1 555.0,747.3 561.6,792.3 568.2,792.3 574.7,735.3 581.3,708.1 587.9,633.9 594.5,621.7 601.1,608.3 607.7,614.3 614.3,617.8 620.9,617.8 627.4,588.4 634.0,577.3 640.6,572.4 647.2,566.0 653.8,580.1 660.4,556.5 667.0,549.4 673.5,549.4 680.1,523.5 686.7,523.5 693.3,511.9 699.9,504.0 706.5,504.0 713.1,511.5 719.7,511.5 726.2,459.7 732.8,464.6 739.4,444.3 746.0,434.9 752.6,412.4 759.2,402.7 765.8,402.7 772.4,402.7 778.9,403.8 785.5,408.5 792.1,420.2 798.7,474.8 805.3,496.2 811.9,485.6 818.5,463.5 825.1,432.5 831.6,432.5 838.2,414.5 844.8,414.5 851.4,413.0 858.0,405.0 864.6,405.0 871.2,372.6 877.7,367.2 884.3,372.1 890.9,360.3 897.5,360.3 904.1,352.3 910.7,349.4 917.3,342.1 923.9,347.8 930.4,347.8 937.0,315.3 943.6,348.5 950.2,340.0 956.8,336.1 963.4,321.3 970.0,314.7 976.6,305.7 983.1,289.8 989.7,289.8 996.3,289.8 1002.9,317.7 1009.5,317.7 1016.1,317.8 1022.7,315.9 1029.2,338.1 1035.8,330.0 1042.4,294.5 1049.0,301.9 1055.6,301.9 1062.2,317.8 1068.8,334.9 1075.4,346.4 1081.9,340.7 1088.5,339.8 1095.1,303.2 1101.7,323.7 1108.3,301.2 1114.9,316.4 1121.5,311.0 1128.1,319.6 1134.6,319.6 1141.2,299.0 1147.8,299.4 1154.4,299.4 1161.0,300.2 1167.6,295.7 1174.2,292.2 1180.7,311.3 1187.3,311.3 1193.9,297.7 1200.5,299.1 1207.1,301.0 1213.7,284.3 1220.3,298.4 1226.9,294.7 1233.4,295.2 1240.0,302.8 1246.6,296.8 1253.2,281.4 1259.8,295.9 1266.4,295.9 1273.0,294.5 1279.6,286.1 1286.1,246.6 1292.7,246.6 1299.3,298.5 1305.9,301.8 1312.5,301.8 1319.1,294.3 1325.7,256.5 1332.2,232.5 1338.8,232.5 1345.4,276.8 1352.0,247.9 1358.6,280.0 1365.2,301.1 1371.8,295.1 1378.4,296.3 1384.9,265.3 1391.5,240.5 1398.1,248.3 1404.7,238.6 1411.3,238.6 1417.9,238.6 1424.5,235.7 1431.1,267.6 1437.6,277.8 1444.2,230.6 1450.8,243.3 1457.4,243.3 1464.0,245.5 1470.6,245.5 1477.2,238.9 1483.8,301.8 1490.3,286.4 1496.9,291.5 1503.5,298.0 1510.1,279.9 1516.7,277.8 1523.3,293.4 1529.9,293.4 1536.4,293.4 1543.0,293.4 1549.6,287.9 1556.2,287.9 1562.8,254.1 1569.4,251.9 1576.0,251.9 1582.6,251.9 1589.1,282.7 1595.7,293.3 1602.3,296.2 1608.9,296.2 1615.5,296.2 1622.1,296.2 1628.7,298.2 1635.3,298.2 1641.8,259.7 1648.4,259.7 1655.0,298.8 1661.6,298.8 1668.2,292.7 1674.8,245.6 1681.4,245.6 1687.9,279.9 1694.5,279.9 1701.1,283.7 1707.7,245.6 1714.3,276.0 1720.9,278.4 1727.5,278.4 1734.1,298.8 1740.6,287.4 1747.2,292.6 1753.8,261.6 1760.4,256.3 1767.0,256.3 1773.6,230.6 1780.2,230.6 1786.8,230.6 1793.3,230.6 1799.9,230.6 1806.5,230.6 1813.1,228.6 1819.7,224.5 1826.3,230.6 1832.9,230.6 1839.4,230.6 1846.0,230.6 1852.6,230.6 1859.2,230.6 1865.8,230.6 1872.4,230.6 1879.0,230.6 1885.6,230.6 1892.1,230.6 1898.7,225.5 1905.3,230.6 1911.9,230.6 1918.5,227.7 1925.1,230.6 1931.7,230.6 1938.3,230.6 1944.8,222.3 1951.4,230.6 1958.0,230.6 1964.6,230.6 1971.2,230.6 1977.8,230.6 1984.4,230.6 1991.0,230.6 1997.5,230.6" stroke="#ff70c4"/>
<polyline points="344.2,1039.9 350.8,1037.3 357.4,1031.4 364.0,1016.4 370.5,1006.5 377.1,1006.5 383.7,1026.0 390.3,1026.0 396.9,1010.1 403.5,1013.9 410.1,988.8 416.7,977.3 423.2,994.7 429.8,1004.3 436.4,986.3 443.0,965.9 449.6,956.3 456.2,956.3 462.8,956.3 469.4,956.3 475.9,922.7 482.5,922.7 489.1,922.7 495.7,854.0 502.3,837.4 508.9,827.4 515.5,827.4 522.0,791.3 528.6,791.3 535.2,797.6 541.8,797.6 548.4,775.6 555.0,776.0 561.6,801.5 568.2,801.5 574.7,734.5 581.3,683.8 587.9,643.0 594.5,637.3 601.1,618.7 607.7,645.3 614.3,622.4 620.9,625.2 627.4,601.1 634.0,583.9 640.6,547.1 647.2,547.1 653.8,571.5 660.4,571.5 667.0,543.0 673.5,543.0 680.1,523.6 686.7,508.1 693.3,511.3 699.9,508.4 706.5,514.1 713.1,498.9 719.7,464.4 726.2,452.5 732.8,460.5 739.4,423.4 746.0,428.4 752.6,416.0 759.2,422.9 765.8,422.9 772.4,414.7 778.9,398.3 785.5,418.3 792.1,443.6 798.7,463.4 805.3,507.6 811.9,507.6 818.5,458.5 825.1,448.8 831.6,418.2 838.2,426.5 844.8,399.9 851.4,406.8 858.0,406.0 864.6,396.7 871.2,393.1 877.7,374.1 884.3,373.5 890.9,367.4 897.5,367.4 904.1,356.4 910.7,350.2 917.3,349.9 923.9,349.9 930.4,341.5 937.0,342.0 943.6,365.0 950.2,335.3 956.8,335.3 963.4,326.4 970.0,326.4 976.6,326.4 983.1,289.8 989.7,289.8 996.3,288.4 1002.9,293.8 1009.5,306.3 1016.1,320.7 1022.7,320.7 1029.2,322.2 1035.8,318.8 1042.4,293.1 1049.0,309.9 1055.6,303.3 1062.2,317.5 1068.8,319.3 1075.4,322.8 1081.9,326.7 1088.5,323.8 1095.1,312.3 1101.7,312.3 1108.3,312.3 1114.9,304.7 1121.5,304.7 1128.1,289.9 1134.6,300.2 1141.2,280.8 1147.8,281.3 1154.4,280.7 1161.0,299.6 1167.6,275.6 1174.2,281.0 1180.7,277.1 1187.3,284.3 1193.9,274.1 1200.5,284.1 1207.1,276.0 1213.7,283.1 1220.3,275.4 1226.9,272.8 1233.4,272.8 1240.0,270.1 1246.6,270.1 1253.2,269.0 1259.8,273.0 1266.4,269.3 1273.0,269.3 1279.6,269.4 1286.1,255.3 1292.7,300.9 1299.3,294.6 1305.9,294.6 1312.5,284.5 1319.1,301.8 1325.7,236.5 1332.2,257.1 1338.8,257.1 1345.4,252.7 1352.0,301.8 1358.6,244.2 1365.2,291.7 1371.8,251.2 1378.4,251.2 1384.9,231.7 1391.5,301.8 1398.1,301.8 1404.7,292.1 1411.3,292.1 1417.9,277.3 1424.5,277.3 1431.1,277.3 1437.6,282.0 1444.2,298.8 1450.8,298.8 1457.4,269.1 1464.0,269.1 1470.6,247.3 1477.2,249.6 1483.8,249.6 1490.3,249.6 1496.9,257.8 1503.5,276.9 1510.1,263.3 1516.7,260.7 1523.3,260.7 1529.9,260.7 1536.4,260.7 1543.0,257.7 1549.6,245.6 1556.2,257.5 1562.8,257.5 1569.4,247.0 1576.0,247.0 1582.6,247.0 1589.1,270.9 1595.7,245.6 1602.3,245.6 1608.9,250.6 1615.5,257.1 1622.1,250.9 1628.7,252.0 1635.3,245.6 1641.8,245.6 1648.4,247.9 1655.0,247.9 1661.6,298.8 1668.2,298.5 1674.8,250.7 1681.4,298.8 1687.9,298.3 1694.5,298.8 1701.1,298.8 1707.7,247.0 1714.3,246.4 1720.9,246.4 1727.5,246.4 1734.1,246.4 1740.6,246.4 1747.2,246.4 1753.8,245.6 1760.4,245.6 1767.0,230.6 1773.6,230.6 1780.2,230.6 1786.8,230.6 1793.3,230.6 1799.9,230.6 1806.5,230.6 1813.1,230.6 1819.7,230.6 1826.3,218.4 1832.9,230.6 1839.4,230.6 1846.0,225.7 1852.6,230.6 1859.2,230.6 1865.8,230.6 1872.4,224.0 1879.0,230.6 1885.6,220.7 1892.1,230.6 1898.7,230.6 1905.3,230.6 1911.9,230.6 1918.5,230.6 1925.1,230.6 1931.7,230.6 1938.3,230.6 1944.8,230.6 1951.4,230.6 1958.0,230.6 1964.6,230.6 1971.2,230.6 1977.8,230.6 1984.4,230.6 1991.0,230.6 1997.5,230.6" stroke="#0ca02c"/>
<polyline points="344.2,982.5 350.8,980.7 357.4,987.3 364.0,998.5 370.5,1001.2 377.1,1002.0 383.7,1002.0 390.3,980.3 396.9,941.7 403.5,927.3 410.1,917.1 416.7,918.9 423.2,920.5 429.8,920.5 436.4,917.9 443.0,917.9 449.6,896.1 456.2,854.6 462.8,868.0 469.4,868.0 475.9,847.5 482.5,844.8 489.1,844.8 495.7,796.9 502.3,792.8 508.9,792.8 515.5,778.3 522.0,778.3 528.6,778.3 535.2,757.3 541.8,742.9 548.4,717.0 555.0,721.7 561.6,713.1 568.2,720.2 574.7,694.3 581.3,694.3 587.9,694.3 594.5,694.3 601.1,563.0 607.7,580.3 614.3,564.2 620.9,567.0 627.4,567.0 634.0,553.3 640.6,533.0 647.2,533.0 653.8,565.5 660.4,552.0 667.0,539.5 673.5,514.0 680.1,457.9 686.7,453.8 693.3,456.7 699.9,460.2 706.5,460.2 713.1,421.8 719.7,421.8 726.2,457.5 732.8,507.5 739.4,463.4 746.0,413.3 752.6,374.2 759.2,378.9 765.8,378.9 772.4,368.6 778.9,362.1 785.5,326.3 792.1,357.4 798.7,422.9 805.3,422.9 811.9,422.9 818.5,420.8 825.1,403.5 831.6,424.7 838.2,422.7 844.8,393.9 851.4,394.9 858.0,391.2 864.6,371.4 871.2,370.9 877.7,354.9 884.3,325.1 890.9,310.8 897.5,310.8 904.1,306.5 910.7,312.4 917.3,333.6 923.9,333.6 930.4,333.6 937.0,318.4 943.6,318.4 950.2,277.0 956.8,248.1 963.4,249.1 970.0,239.3 976.6,241.3 983.1,269.6 989.7,269.6 996.3,288.4 1002.9,288.4 1009.5,284.3 1016.1,284.9 1022.7,272.8 1029.2,288.9 1035.8,288.9 1042.4,288.9 1049.0,277.8 1055.6,264.4 1062.2,261.3 1068.8,270.3 1075.4,270.3 1081.9,263.0 1088.5,258.9 1095.1,252.6 1101.7,254.6 1108.3,249.8 1114.9,301.2 1121.5,283.4 1128.1,283.4 1134.6,286.1 1141.2,286.1 1147.8,301.3 1154.4,291.0 1161.0,296.5 1167.6,301.8 1174.2,276.5 1180.7,233.6 1187.3,293.2 1193.9,296.5 1200.5,262.5 1207.1,241.7 1213.7,239.4 1220.3,264.4 1226.9,294.7 1233.4,263.2 1240.0,245.9 1246.6,278.9 1253.2,270.7 1259.8,260.3 1266.4,299.0 1273.0,230.6 1279.6,230.6 1286.1,259.8 1292.7,269.6 1299.3,233.4 1305.9,247.6 1312.5,264.3 1319.1,264.3 1325.7,264.3 1332.2,264.3 1338.8,245.7 1345.4,295.9 1352.0,281.7 1358.6,284.9 1365.2,263.4 1371.8,230.6 1378.4,256.7 1384.9,242.1 1391.5,272.1 1398.1,283.0 1404.7,245.1 1411.3,280.1 1417.9,297.0 1424.5,230.6 1431.1,230.6 1437.6,230.6 1444.2,230.6 1450.8,230.6 1457.4,230.6 1464.0,230.6 1470.6,230.6 1477.2,230.6 1483.8,230.6 1490.3,230.6 1496.9,230.6 1503.5,230.6 1510.1,230.6 1516.7,230.6 1523.3,230.6 1529.9,230.6 1536.4,230.6 1543.0,230.6 1549.6,230.6 1556.2,230.6 1562.8,230.6 1569.4,250.5 1576.0,230.6 1582.6,230.6 1589.1,223.0 1595.7,230.6 1602.3,230.6 1608.9,230.6 1615.5,230.6 1622.1,243.1 1628.7,230.6 1635.3,230.6 1641.8,230.6 1648.4,237.7 1655.0,219.7 1661.6,230.6 1668.2,230.6 1674.8,243.0 1681.4,230.6 1687.9,230.6 1694.5,248.0 1701.1,230.6 1707.7,230.6 1714.3,230.6 1720.9,245.4 1727.5,230.6 1734.1,230.6 1740.6,217.7 1747.2,167.4 1753.8,162.6 1760.4,159.6 1767.0,160.5 1773.6,194.7 1780.2,230.6 1786.8,162.8 1793.3,162.8 1799.9,216.8 1806.5,228.4 1813.1,159.5 1819.7,174.6 1826.3,174.6 1832.9,230.0 1839.4,230.0 1846.0,211.9 1852.6,198.5 1859.2,159.5 1865.8,206.7 1872.4,182.5 1879.0,173.5 1885.6,167.4 1892.1,180.7 1898.7,180.7 1905.3,202.9 1911.9,227.9 1918.5,207.1 1925.1,181.0 1931.7,159.9 1938.3,159.9 1944.8,182.7 1951.4,182.7 1958.0,182.7 1964.6,191.5 1971.2,177.7 1977.8,177.7 1984.4,164.4 1991.0,160.7 1997.5,169.1" stroke="#c2bd12"/>
<polyline points="344.2,1015.4 350.8,1011.5 357.4,1011.5 364.0,1014.0 370.5,1018.6 377.1,1005.9 383.7,1042.6 390.3,1042.6 396.9,1042.6 403.5,944.8 410.1,941.4 416.7,929.5 423.2,949.1 429.8,949.1 436.4,942.0 443.0,942.0 449.6,942.0 456.2,873.4 462.8,886.6 469.4,880.1 475.9,880.1 482.5,885.9 489.1,873.8 495.7,873.8 502.3,802.8 508.9,802.8 515.5,802.8 522.0,803.9 528.6,803.9 535.2,774.6 541.8,763.4 548.4,747.0 555.0,741.3 561.6,732.9 568.2,732.9 574.7,724.1 581.3,587.5 587.9,591.5 594.5,591.5 601.1,603.6 607.7,592.5 614.3,602.6 620.9,602.6 627.4,575.4 634.0,552.7 640.6,557.7 647.2,587.3 653.8,572.9 660.4,583.1 667.0,571.3 673.5,532.9 680.1,477.1 686.7,495.6 693.3,476.8 699.9,482.0 706.5,457.2 713.1,445.4 719.7,463.0 726.2,485.4 732.8,504.4 739.4,497.4 746.0,429.5 752.6,412.8 759.2,412.8 765.8,390.8 772.4,390.8 778.9,364.5 785.5,345.0 792.1,396.7 798.7,443.7 805.3,486.2 811.9,489.3 818.5,489.3 825.1,433.1 831.6,433.1 838.2,419.0 844.8,420.8 851.4,416.4 858.0,412.3 864.6,412.3 871.2,390.0 877.7,390.0 884.3,339.0 890.9,334.6 897.5,334.6 904.1,311.1 910.7,332.4 917.3,347.4 923.9,347.4 930.4,341.7 937.0,341.7 943.6,303.2 950.2,288.6 956.8,275.4 963.4,263.7 970.0,262.5 976.6,262.5 983.1,277.3 989.7,277.3 996.3,303.5 1002.9,304.0 1009.5,314.3 1016.1,314.3 1022.7,314.3 1029.2,296.1 1035.8,283.7 1042.4,288.2 1049.0,270.8 1055.6,269.9 1062.2,275.3 1068.8,271.6 1075.4,264.0 1081.9,264.0 1088.5,274.1 1095.1,278.5 1101.7,284.2 1108.3,269.6 1114.9,269.6 1121.5,269.6 1128.1,265.4 1134.6,269.2 1141.2,269.2 1147.8,269.2 1154.4,278.2 1161.0,283.2 1167.6,241.1 1174.2,277.9 1180.7,279.1 1187.3,250.4 1193.9,287.8 1200.5,284.7 1207.1,272.2 1213.7,241.0 1220.3,278.6 1226.9,237.3 1233.4,234.3 1240.0,301.8 1246.6,286.5 1253.2,288.0 1259.8,292.5 1266.4,289.1 1273.0,283.6 1279.6,283.6 1286.1,287.1 1292.7,299.6 1299.3,299.6 1305.9,299.6 1312.5,263.0 1319.1,300.1 1325.7,281.9 1332.2,294.7 1338.8,255.0 1345.4,250.2 1352.0,280.2 1358.6,290.1 1365.2,284.5 1371.8,284.5 1378.4,249.0 1384.9,249.6 1391.5,249.6 1398.1,300.5 1404.7,274.2 1411.3,292.1 1417.9,268.9 1424.5,268.9 1431.1,268.9 1437.6,285.2 1444.2,300.3 1450.8,230.6 1457.4,230.6 1464.0,230.6 1470.6,230.6 1477.2,230.6 1483.8,252.7 1490.3,230.6 1496.9,241.1 1503.5,230.6 1510.1,252.8 1516.7,230.6 1523.3,230.6 1529.9,230.6 1536.4,253.9 1543.0,230.6 1549.6,230.6 1556.2,230.6 1562.8,255.3 1569.4,230.6 1576.0,246.3 1582.6,230.6 1589.1,222.1 1595.7,238.8 1602.3,230.6 1608.9,240.5 1615.5,230.6 1622.1,230.6 1628.7,230.6 1635.3,230.6 1641.8,240.9 1648.4,230.6 1655.0,230.6 1661.6,226.3 1668.2,230.6 1674.8,239.3 1681.4,230.6 1687.9,228.3 1694.5,230.6 1701.1,170.2 1707.7,170.2 1714.3,170.2 1720.9,159.9 1727.5,159.9 1734.1,191.7 1740.6,163.7 1747.2,207.3 1753.8,207.3 1760.4,207.3 1767.0,226.0 1773.6,219.0 1780.2,224.1 1786.8,210.5 1793.3,210.5 1799.9,200.1 1806.5,200.1 1813.1,162.4 1819.7,193.6 1826.3,228.0 1832.9,224.1 1839.4,198.1 1846.0,230.1 1852.6,229.7 1859.2,208.6 1865.8,160.3 1872.4,230.6 1879.0,228.1 1885.6,223.6 1892.1,159.5 1898.7,159.8 1905.3,159.8 1911.9,228.2 1918.5,192.7 1925.1,161.6 1931.7,230.6 1938.3,182.2 1944.8,209.0 1951.4,219.4 1958.0,227.0 1964.6,227.0 1971.2,214.0 1977.8,167.8 1984.4,167.8 1991.0,167.8 1997.5,168.3" stroke="#a064cc"/>
<polyline points="344.2,985.1 350.8,949.1 357.4,978.0 364.0,989.9 370.5,985.6 377.1,985.6 383.7,1014.2 390.3,911.6 396.9,926.8 403.5,926.8 410.1,907.2 416.7,916.2 423.2,920.8 429.8,918.5 436.4,908.6 443.0,909.6 449.6,877.5 456.2,856.7 462.8,839.1 469.4,850.9 475.9,850.9 482.5,837.0 489.1,841.2 495.7,794.9 502.3,793.5 508.9,793.9 515.5,770.8 522.0,766.4 528.6,777.2 535.2,751.7 541.8,732.1 548.4,731.6 555.0,708.1 561.6,714.7 568.2,702.6 574.7,702.6 581.3,581.8 587.9,575.6 594.5,569.3 601.1,568.7 607.7,556.7 614.3,569.5 620.9,559.8 627.4,530.1 634.0,520.3 640.6,517.9 647.2,517.9 653.8,553.0 660.4,560.4 667.0,544.7 673.5,544.7 680.1,467.6 686.7,470.6 693.3,474.0 699.9,441.7 706.5,428.8 713.1,424.9 719.7,432.8 726.2,487.9 732.8,508.7 739.4,473.2 746.0,411.6 752.6,411.6 759.2,373.8 765.8,392.9 772.4,369.4 778.9,382.2 785.5,344.7 792.1,383.4 798.7,438.8 805.3,473.7 811.9,485.1 818.5,442.9 825.1,428.3 831.6,424.8 838.2,417.3 844.8,421.4 851.4,394.5 858.0,387.7 864.6,392.1 871.2,370.7 877.7,367.8 884.3,363.0 890.9,325.1 897.5,327.1 904.1,310.2 910.7,337.1 917.3,339.0 923.9,339.0 930.4,339.0 937.0,324.6 943.6,324.6 950.2,295.6 956.8,295.6 963.4,280.6 970.0,280.6 976.6,280.6 983.1,284.8 989.7,300.9 996.3,306.0 1002.9,294.4 1009.5,304.7 1016.1,282.8 1022.7,295.8 1029.2,293.7 1035.8,276.6 1042.4,276.6 1049.0,276.6 1055.6,245.0 1062.2,277.3 1068.8,267.4 1075.4,280.0 1081.9,256.0 1088.5,270.8 1095.1,271.9 1101.7,275.2 1108.3,275.5 1114.9,275.5 1121.5,266.1 1128.1,276.4 1134.6,230.6 1141.2,230.6 1147.8,230.6 1154.4,230.6 1161.0,230.6 1167.6,230.6 1174.2,230.6 1180.7,230.6 1187.3,230.6 1193.9,230.6 1200.5,230.6 1207.1,230.6 1213.7,230.6 1220.3,230.6 1226.9,218.9 1233.4,230.6 1240.0,230.6 1246.6,230.6 1253.2,230.6 1259.8,230.6 1266.4,230.6 1273.0,230.6 1279.6,230.6 1286.1,230.6 1292.7,230.6 1299.3,230.6 1305.9,230.6 1312.5,230.6 1319.1,230.6 1325.7,230.6 1332.2,230.6 1338.8,230.6 1345.4,230.6 1352.0,230.6 1358.6,230.6 1365.2,230.6 1371.8,230.6 1378.4,230.6 1384.9,230.6 1391.5,230.6 1398.1,230.6 1404.7,230.6 1411.3,230.6 1417.9,230.6 1424.5,230.6 1431.1,230.6 1437.6,230.6 1444.2,230.6 1450.8,230.6 1457.4,223.9 1464.0,230.6 1470.6,230.6 1477.2,230.6 1483.8,230.6 1490.3,230.6 1496.9,230.6 1503.5,223.3 1510.1,230.6 1516.7,230.6 1523.3,230.6 1529.9,230.6 1536.4,230.6 1543.0,230.6 1549.6,230.6 1556.2,230.6 1562.8,230.6 1569.4,222.4 1576.0,225.0 1582.6,230.6 1589.1,230.6 1595.7,230.6 1602.3,230.6 1608.9,230.6 1615.5,230.6 1622.1,230.6 1628.7,221.1 1635.3,202.6 1641.8,198.8 1648.4,204.2 1655.0,204.2 1661.6,202.3 1668.2,190.6 1674.8,208.4 1681.4,194.7 1687.9,177.7 1694.5,163.6 1701.1,177.0 1707.7,210.6 1714.3,230.6 1720.9,226.8 1727.5,210.5 1734.1,213.9 1740.6,213.9 1747.2,230.6 1753.8,226.3 1760.4,226.3 1767.0,224.0 1773.6,224.0 1780.2,222.7 1786.8,159.5 1793.3,201.3 1799.9,175.1 1806.5,197.4 1813.1,160.8 1819.7,181.0 1826.3,161.5 1832.9,161.5 1839.4,164.6 1846.0,230.6 1852.6,216.9 1859.2,191.9 1865.8,223.0 1872.4,159.5 1879.0,213.1 1885.6,160.3 1892.1,181.0 1898.7,181.0 1905.3,194.4 1911.9,221.0 1918.5,159.5 1925.1,176.5 1931.7,176.5 1938.3,230.6 1944.8,217.8 1951.4,204.3 1958.0,225.1 1964.6,226.0 1971.2,229.7 1977.8,159.5 1984.4,159.5 1991.0,173.6 1997.5,180.8" stroke="#808080"/>
<polyline points="344.2,1002.7 350.8,1002.7 357.4,1023.2 364.0,1008.7 370.5,1012.1 377.1,1033.1 383.7,1036.5 390.3,982.2 396.9,952.2 403.5,947.0 410.1,947.0 416.7,947.0 423.2,933.4 429.8,960.0 436.4,960.0 443.0,937.4 449.6,907.4 456.2,877.8 462.8,861.6 469.4,877.6 475.9,867.4 482.5,867.6 489.1,858.2 495.7,807.1 502.3,807.1 508.9,807.1 515.5,807.1 522.0,782.1 528.6,803.6 535.2,792.3 541.8,750.4 548.4,733.6 555.0,731.4 561.6,731.4 568.2,731.4 574.7,739.8 581.3,597.5 587.9,598.2 594.5,594.2 601.1,590.3 607.7,582.5 614.3,597.4 620.9,600.9 627.4,590.9 634.0,553.8 640.6,553.8 647.2,544.6 653.8,562.8 660.4,556.1 667.0,531.6 673.5,507.0 680.1,503.3 686.7,503.3 693.3,474.9 699.9,448.6 706.5,451.1 713.1,439.0 719.7,437.7 726.2,493.3 732.8,495.0 739.4,471.2 746.0,409.6 752.6,384.9 759.2,373.8 765.8,385.1 772.4,385.1 778.9,360.5 785.5,329.8 792.1,376.8 798.7,442.6 805.3,493.5 811.9,469.7 818.5,452.6 825.1,424.0 831.6,430.3 838.2,430.3 844.8,410.0 851.4,393.6 858.0,393.6 864.6,379.3 871.2,379.3 877.7,379.3 884.3,332.7 890.9,306.7 897.5,314.7 904.1,298.6 910.7,301.7 917.3,326.2 923.9,327.0 930.4,326.8 937.0,327.0 943.6,288.4 950.2,287.8 956.8,270.7 963.4,270.7 970.0,249.7 976.6,249.7 983.1,261.6 989.7,261.6 996.3,304.0 1002.9,304.0 1009.5,279.5 1016.1,284.2 1022.7,284.2 1029.2,261.1 1035.8,261.1 1042.4,251.8 1049.0,259.5 1055.6,259.5 1062.2,259.5 1068.8,259.3 1075.4,251.4 1081.9,227.3 1088.5,250.8 1095.1,252.6 1101.7,252.6 1108.3,252.6 1114.9,243.2 1121.5,228.0 1128.1,260.0 1134.6,279.1 1141.2,301.8 1147.8,293.9 1154.4,269.1 1161.0,248.4 1167.6,274.5 1174.2,298.8 1180.7,289.7 1187.3,261.1 1193.9,261.1 1200.5,295.7 1207.1,285.8 1213.7,265.8 1220.3,293.7 1226.9,232.7 1233.4,232.7 1240.0,232.7 1246.6,230.8 1253.2,243.3 1259.8,256.7 1266.4,231.8 1273.0,231.8 1279.6,247.4 1286.1,264.7 1292.7,291.6 1299.3,299.1 1305.9,299.1 1312.5,300.1 1319.1,291.5 1325.7,291.5 1332.2,248.3 1338.8,248.3 1345.4,230.6 1352.0,230.6 1358.6,231.1 1365.2,231.1 1371.8,237.1 1378.4,235.3 1384.9,300.2 1391.5,300.2 1398.1,247.8 1404.7,250.3 1411.3,244.0 1417.9,288.1 1424.5,278.7 1431.1,262.7 1437.6,240.1 1444.2,272.3 1450.8,244.0 1457.4,244.0 1464.0,244.0 1470.6,251.8 1477.2,233.7 1483.8,238.4 1490.3,245.7 1496.9,247.8 1503.5,230.6 1510.1,230.6 1516.7,230.6 1523.3,223.5 1529.9,250.3 1536.4,223.0 1543.0,224.4 1549.6,230.6 1556.2,230.6 1562.8,230.6 1569.4,230.6 1576.0,230.6 1582.6,230.6 1589.1,230.6 1595.7,230.6 1602.3,230.6 1608.9,230.6 1615.5,230.6 1622.1,230.6 1628.7,230.6 1635.3,230.6 1641.8,230.6 1648.4,230.6 1655.0,230.6 1661.6,250.2 1668.2,229.7 1674.8,229.7 1681.4,213.8 1687.9,219.6 1694.5,197.8 1701.1,197.8 1707.7,159.9 1714.3,186.2 1720.9,219.5 1727.5,201.6 1734.1,201.6 1740.6,166.7 1747.2,166.7 1753.8,163.4 1760.4,168.5 1767.0,161.7 1773.6,161.7 1780.2,205.0 1786.8,197.5 1793.3,197.5 1799.9,221.6 1806.5,227.0 1813.1,220.2 1819.7,220.1 1826.3,220.1 1832.9,220.1 1839.4,159.5 1846.0,169.3 1852.6,169.3 1859.2,181.6 1865.8,210.9 1872.4,205.2 1879.0,215.7 1885.6,218.3 1892.1,218.3 1898.7,218.3 1905.3,195.9 1911.9,171.5 1918.5,202.0 1925.1,202.0 1931.7,230.6 1938.3,220.9 1944.8,159.5 1951.4,195.6 1958.0,181.2 1964.6,178.6 1971.2,166.7 1977.8,195.1 1984.4,226.8 1991.0,215.3 1997.5,230.6" stroke="#f21c1c"/>
<polyline points="344.2,990.8 350.8,987.6 357.4,1012.5 364.0,1005.6 370.5,1003.8 377.1,1007.1 383.7,1021.8 390.3,975.4 396.9,975.4 403.5,929.0 410.1,925.9 416.7,926.0 423.2,937.7 429.8,936.8 436.4,914.5 443.0,937.0 449.6,888.7 456.2,869.7 462.8,869.7 469.4,874.3 475.9,861.0 482.5,856.1 489.1,856.1 495.7,816.6 502.3,809.0 508.9,802.5 515.5,809.5 522.0,819.5 528.6,771.4 535.2,771.4 541.8,771.4 548.4,736.3 555.0,734.4 561.6,734.4 568.2,758.7 574.7,758.7 581.3,582.7 587.9,576.5 594.5,592.1 601.1,580.0 607.7,594.8 614.3,594.2 620.9,578.5 627.4,578.5 634.0,551.0 640.6,515.2 647.2,551.8 653.8,559.7 660.4,559.7 667.0,558.1 673.5,521.5 680.1,521.5 686.7,461.7 693.3,463.5 699.9,459.3 706.5,459.3 713.1,434.9 719.7,448.8 726.2,481.0 732.8,503.3 739.4,485.8 746.0,402.1 752.6,398.4 759.2,409.7 765.8,400.7 772.4,376.5 778.9,366.7 785.5,335.6 792.1,408.4 798.7,439.4 805.3,439.4 811.9,475.9 818.5,443.3 825.1,422.8 831.6,422.8 838.2,422.8 844.8,415.0 851.4,401.0 858.0,398.1 864.6,383.9 871.2,369.1 877.7,369.1 884.3,337.9 890.9,328.7 897.5,319.9 904.1,297.7 910.7,322.1 917.3,322.1 923.9,337.3 930.4,331.5 937.0,332.9 943.6,304.9 950.2,289.0 956.8,266.4 963.4,266.4 970.0,252.1 976.6,258.5 983.1,273.8 989.7,273.8 996.3,300.5 1002.9,297.4 1009.5,297.4 1016.1,290.0 1022.7,295.0 1029.2,286.2 1035.8,279.0 1042.4,274.4 1049.0,270.9 1055.6,277.1 1062.2,258.4 1068.8,265.1 1075.4,275.8 1081.9,261.7 1088.5,261.7 1095.1,272.6 1101.7,259.4 1108.3,268.2 1114.9,282.8 1121.5,275.9 1128.1,274.5 1134.6,266.9 1141.2,230.6 1147.8,223.7 1154.4,230.6 1161.0,230.6 1167.6,230.6 1174.2,230.6 1180.7,230.6 1187.3,230.6 1193.9,230.6 1200.5,230.6 1207.1,230.6 1213.7,230.6 1220.3,230.6 1226.9,230.6 1233.4,230.6 1240.0,230.6 1246.6,230.6 1253.2,230.6 1259.8,230.6 1266.4,230.6 1273.0,220.8 1279.6,230.6 1286.1,230.6 1292.7,230.6 1299.3,230.6 1305.9,230.6 1312.5,230.6 1319.1,230.6 1325.7,230.6 1332.2,230.6 1338.8,230.6 1345.4,230.6 1352.0,230.6 1358.6,230.6 1365.2,230.6 1371.8,230.6 1378.4,230.6 1384.9,230.6 1391.5,224.8 1398.1,230.6 1404.7,230.6 1411.3,226.3 1417.9,230.6 1424.5,230.6 1431.1,230.6 1437.6,224.2 1444.2,230.6 1450.8,224.0 1457.4,230.6 1464.0,230.6 1470.6,230.6 1477.2,230.6 1483.8,230.6 1490.3,230.6 1496.9,230.6 1503.5,230.6 1510.1,230.6 1516.7,230.6 1523.3,230.6 1529.9,230.6 1536.4,230.6 1543.0,230.6 1549.6,230.6 1556.2,230.6 1562.8,230.6 1569.4,230.6 1576.0,230.6 1582.6,230.6 1589.1,230.6 1595.7,230.6 1602.3,230.6 1608.9,230.6 1615.5,219.5 1622.1,230.6 1628.7,230.6 1635.3,230.6 1641.8,230.6 1648.4,230.6 1655.0,230.6 1661.6,226.7 1668.2,226.7 1674.8,213.9 1681.4,190.6 1687.9,198.0 1694.5,191.4 1701.1,191.4 1707.7,195.6 1714.3,198.1 1720.9,188.7 1727.5,188.7 1734.1,183.1 1740.6,186.6 1747.2,162.4 1753.8,162.4 1760.4,162.4 1767.0,180.2 1773.6,216.5 1780.2,230.6 1786.8,212.8 1793.3,230.3 1799.9,230.3 1806.5,194.2 1813.1,171.2 1819.7,174.5 1826.3,189.2 1832.9,223.5 1839.4,226.6 1846.0,226.6 1852.6,207.1 1859.2,190.5 1865.8,190.5 1872.4,178.3 1879.0,202.9 1885.6,174.8 1892.1,230.6 1898.7,230.6 1905.3,224.1 1911.9,221.1 1918.5,223.8 1925.1,223.8 1931.7,218.1 1938.3,199.3 1944.8,178.4 1951.4,159.5 1958.0,181.0 1964.6,165.1 1971.2,171.9 1977.8,171.9 1984.4,197.8 1991.0,200.5 1997.5,210.3" stroke="#ff70c4"/>
<polyline points="344.2,998.3 350.8,998.3 357.4,999.7 364.0,983.7 370.5,1001.9 377.1,1001.3 383.7,1030.0 390.3,964.8 396.9,964.8 403.5,930.3 410.1,926.6 416.7,925.6 423.2,925.6 429.8,917.3 436.4,925.0 443.0,920.7 449.6,915.7 456.2,863.6 462.8,870.0 469.4,866.7 475.9,875.5 482.5,860.0 489.1,855.7 495.7,855.7 502.3,855.7 508.9,799.3 515.5,809.0 522.0,800.9 528.6,786.7 535.2,775.3 541.8,751.0 548.4,745.3 555.0,724.2 561.6,716.2 568.2,731.7 574.7,689.0 581.3,586.0 587.9,575.6 594.5,588.3 601.1,563.0 607.7,590.9 614.3,558.1 620.9,558.1 627.4,563.6 634.0,546.5 640.6,535.0 647.2,550.9 653.8,558.4 660.4,558.9 667.0,547.5 673.5,547.5 680.1,547.5 686.7,484.5 693.3,471.0 699.9,486.4 706.5,457.6 713.1,457.6 719.7,451.6 726.2,494.1 732.8,494.1 739.4,494.1 746.0,440.7 752.6,440.7 759.2,390.7 765.8,402.1 772.4,374.6 778.9,373.4 785.5,373.4 792.1,387.1 798.7,421.5 805.3,421.5 811.9,428.7 818.5,383.2 825.1,362.4 831.6,372.7 838.2,372.7 844.8,344.3 851.4,344.3 858.0,357.0 864.6,357.0 871.2,357.0 877.7,360.9 884.3,340.9 890.9,325.6 897.5,325.6 904.1,308.6 910.7,344.4 917.3,341.5 923.9,356.9 930.4,345.2 937.0,326.4 943.6,301.9 950.2,298.0 956.8,275.2 963.4,275.2 970.0,269.3 976.6,269.7 983.1,281.4 989.7,312.3 996.3,312.3 1002.9,323.0 1009.5,323.0 1016.1,302.4 1022.7,289.3 1029.2,289.5 1035.8,276.9 1042.4,270.9 1049.0,280.9 1055.6,280.9 1062.2,284.8 1068.8,284.8 1075.4,267.8 1081.9,287.1 1088.5,287.1 1095.1,270.7 1101.7,270.7 1108.3,233.6 1114.9,233.6 1121.5,301.8 1128.1,278.0 1134.6,253.8 1141.2,252.4 1147.8,255.9 1154.4,280.7 1161.0,230.6 1167.6,230.6 1174.2,230.6 1180.7,231.4 1187.3,251.6 1193.9,231.0 1200.5,266.9 1207.1,248.0 1213.7,301.8 1220.3,230.6 1226.9,234.2 1233.4,234.2 1240.0,242.2 1246.6,260.0 1253.2,237.5 1259.8,232.3 1266.4,232.3 1273.0,280.8 1279.6,280.8 1286.1,238.8 1292.7,238.8 1299.3,253.1 1305.9,253.1 1312.5,231.5 1319.1,242.8 1325.7,250.2 1332.2,242.8 1338.8,301.8 1345.4,292.4 1352.0,301.8 1358.6,301.8 1365.2,274.1 1371.8,274.1 1378.4,266.9 1384.9,244.6 1391.5,244.6 1398.1,301.8 1404.7,301.8 1411.3,301.8 1417.9,230.6 1424.5,230.6 1431.1,230.6 1437.6,249.5 1444.2,234.3 1450.8,249.9 1457.4,230.6 1464.0,255.4 1470.6,230.6 1477.2,252.6 1483.8,230.6 1490.3,230.6 1496.9,230.6 1503.5,230.6 1510.1,238.6 1516.7,230.6 1523.3,230.6 1529.9,230.6 1536.4,227.2 1543.0,230.6 1549.6,254.2 1556.2,230.6 1562.8,230.6 1569.4,236.4 1576.0,230.6 1582.6,230.6 1589.1,230.6 1595.7,230.6 1602.3,249.1 1608.9,230.6 1615.5,230.6 1622.1,244.6 1628.7,224.1 1635.3,230.6 1641.8,230.6 1648.4,230.6 1655.0,230.6 1661.6,254.3 1668.2,230.6 1674.8,230.6 1681.4,230.6 1687.9,230.6 1694.5,230.6 1701.1,230.6 1707.7,230.6 1714.3,222.1 1720.9,165.4 1727.5,201.4 1734.1,174.8 1740.6,174.8 1747.2,173.6 1753.8,173.6 1760.4,159.6 1767.0,220.4 1773.6,216.6 1780.2,213.3 1786.8,212.8 1793.3,163.1 1799.9,162.2 1806.5,165.8 1813.1,165.8 1819.7,165.3 1826.3,159.5 1832.9,159.7 1839.4,172.5 1846.0,205.2 1852.6,159.6 1859.2,168.8 1865.8,168.8 1872.4,215.2 1879.0,167.2 1885.6,203.0 1892.1,199.0 1898.7,199.0 1905.3,189.5 1911.9,204.7 1918.5,229.4 1925.1,194.7 1931.7,211.8 1938.3,159.5 1944.8,204.8 1951.4,230.6 1958.0,201.9 1964.6,171.4 1971.2,165.6 1977.8,165.6 1984.4,165.6 1991.0,173.0 1997.5,176.7" stroke="#9a5246"/>
<polyline points="344.2,1016.3 350.8,963.9 357.4,963.9 364.0,992.4 370.5,992.4 377.1,992.4 383.7,992.4 390.3,976.6 396.9,926.7 403.5,924.5 410.1,924.5 416.7,924.5 423.2,950.7 429.8,930.3 436.4,933.3 443.0,919.0 449.6,905.1 456.2,852.8 462.8,852.8 469.4,869.5 475.9,871.5 482.5,879.0 489.1,868.1 495.7,814.4 502.3,802.2 508.9,781.9 515.5,809.4 522.0,792.7 528.6,792.7 535.2,782.4 541.8,782.4 548.4,741.0 555.0,741.0 561.6,716.4 568.2,732.7 574.7,694.6 581.3,608.1 587.9,608.1 594.5,586.9 601.1,574.1 607.7,593.5 614.3,592.3 620.9,566.1 627.4,574.6 634.0,560.6 640.6,537.1 647.2,557.9 653.8,581.5 660.4,581.5 667.0,574.8 673.5,519.9 680.1,472.3 686.7,486.8 693.3,476.0 699.9,462.8 706.5,462.0 713.1,442.7 719.7,462.6 726.2,462.6 732.8,506.2 739.4,490.4 746.0,429.8 752.6,414.6 759.2,407.7 765.8,387.5 772.4,378.3 778.9,359.7 785.5,341.9 792.1,393.1 798.7,445.5 805.3,484.0 811.9,436.3 818.5,377.4 825.1,368.3 831.6,364.8 838.2,348.9 844.8,360.1 851.4,339.1 858.0,358.1 864.6,364.3 871.2,372.9 877.7,335.4 884.3,335.4 890.9,313.4 897.5,338.5 904.1,342.0 910.7,336.3 917.3,357.5 923.9,351.2 930.4,325.9 937.0,335.3 943.6,335.3 950.2,302.3 956.8,273.9 963.4,244.4 970.0,259.4 976.6,259.4 983.1,268.4 989.7,299.0 996.3,306.2 1002.9,298.4 1009.5,300.5 1016.1,301.3 1022.7,299.1 1029.2,279.6 1035.8,278.8 1042.4,267.3 1049.0,256.7 1055.6,271.1 1062.2,266.7 1068.8,270.0 1075.4,266.1 1081.9,271.8 1088.5,230.6 1095.1,230.6 1101.7,230.6 1108.3,230.6 1114.9,230.6 1121.5,230.6 1128.1,230.6 1134.6,230.6 1141.2,230.6 1147.8,230.6 1154.4,221.1 1161.0,230.6 1167.6,230.6 1174.2,230.6 1180.7,230.6 1187.3,230.6 1193.9,225.2 1200.5,230.6 1207.1,230.6 1213.7,230.6 1220.3,220.9 1226.9,230.6 1233.4,230.6 1240.0,230.6 1246.6,230.6 1253.2,218.8 1259.8,225.6 1266.4,230.6 1273.0,226.6 1279.6,230.6 1286.1,230.6 1292.7,230.6 1299.3,230.6 1305.9,230.6 1312.5,225.8 1319.1,230.6 1325.7,230.6 1332.2,225.6 1338.8,225.5 1345.4,230.6 1352.0,225.3 1358.6,230.6 1365.2,230.6 1371.8,230.6 1378.4,230.6 1384.9,230.6 1391.5,224.8 1398.1,224.7 1404.7,230.6 1411.3,230.6 1417.9,230.6 1424.5,230.6 1431.1,230.6 1437.6,230.6 1444.2,230.6 1450.8,230.6 1457.4,230.6 1464.0,230.6 1470.6,230.6 1477.2,230.6 1483.8,230.6 1490.3,230.6 1496.9,230.6 1503.5,230.6 1510.1,230.6 1516.7,230.6 1523.3,230.6 1529.9,230.6 1536.4,230.6 1543.0,230.6 1549.6,230.6 1556.2,230.6 1562.8,230.6 1569.4,230.6 1576.0,230.6 1582.6,230.6 1589.1,230.6 1595.7,230.6 1602.3,230.6 1608.9,230.6 1615.5,230.6 1622.1,230.6 1628.7,230.6 1635.3,216.8 1641.8,230.6 1648.4,230.6 1655.0,230.6 1661.6,230.6 1668.2,230.6 1674.8,230.6 1681.4,230.6 1687.9,230.6 1694.5,230.6 1701.1,230.6 1707.7,230.6 1714.3,230.6 1720.9,226.6 1727.5,226.5 1734.1,227.6 1740.6,225.7 1747.2,225.7 1753.8,225.6 1760.4,207.1 1767.0,190.6 1773.6,218.0 1780.2,217.0 1786.8,205.0 1793.3,159.5 1799.9,159.5 1806.5,195.0 1813.1,195.0 1819.7,195.0 1826.3,160.4 1832.9,177.3 1839.4,179.3 1846.0,197.8 1852.6,159.5 1859.2,170.6 1865.8,223.5 1872.4,173.8 1879.0,160.2 1885.6,201.3 1892.1,174.6 1898.7,164.8 1905.3,159.5 1911.9,172.8 1918.5,230.6 1925.1,230.6 1931.7,227.8 1938.3,230.6 1944.8,230.6 1951.4,217.8 1958.0,217.8 1964.6,223.3 1971.2,210.6 1977.8,210.6 1984.4,222.1 1991.0,212.7 1997.5,167.6" stroke="#c2bd12"/>
<polyline points="344.2,997.3 350.8,987.7 357.4,995.1 364.0,1019.4 370.5,1045.5 377.1,1020.7 383.7,1050.3 390.3,963.1 396.9,932.8 403.5,941.3 410.1,941.3 416.7,931.4 423.2,931.4 429.8,933.1 436.4,926.9 443.0,927.2 449.6,930.3 456.2,862.6 462.8,876.0 469.4,882.3 475.9,883.1 482.5,868.4 489.1,870.3 495.7,829.6 502.3,810.4 508.9,798.2 515.5,792.6 522.0,791.2 528.6,788.0 535.2,772.1 541.8,758.4 548.4,758.4 555.0,726.4 561.6,730.1 568.2,730.7 574.7,744.9 581.3,581.8 587.9,588.4 594.5,588.4 601.1,588.4 607.7,589.8 614.3,592.5 620.9,592.5 627.4,586.5 634.0,586.5 640.6,535.4 647.2,535.4 653.8,567.7 660.4,577.2 667.0,557.0 673.5,506.1 680.1,481.4 686.7,477.2 693.3,478.1 699.9,462.9 706.5,466.4 713.1,464.8 719.7,462.1 726.2,462.1 732.8,500.0 739.4,487.9 746.0,412.2 752.6,412.1 759.2,412.1 765.8,402.3 772.4,376.3 778.9,378.0 785.5,361.5 792.1,388.4 798.7,447.5 805.3,473.0 811.9,473.0 818.5,393.0 825.1,353.5 831.6,368.7 838.2,345.6 844.8,359.8 851.4,346.7 858.0,346.5 864.6,346.5 871.2,370.2 877.7,370.2 884.3,343.2 890.9,324.2 897.5,320.0 904.1,331.2 910.7,340.4 917.3,345.9 923.9,345.9 930.4,353.6 937.0,328.0 943.6,300.6 950.2,291.6 956.8,291.6 963.4,257.9 970.0,255.7 976.6,267.2 983.1,267.2 989.7,267.2 996.3,267.2 1002.9,297.1 1009.5,298.2 1016.1,294.5 1022.7,285.5 1029.2,288.8 1035.8,288.8 1042.4,288.8 1049.0,265.8 1055.6,269.5 1062.2,273.4 1068.8,268.2 1075.4,258.7 1081.9,257.6 1088.5,275.8 1095.1,260.5 1101.7,245.6 1108.3,269.8 1114.9,269.8 1121.5,231.2 1128.1,275.0 1134.6,232.5 1141.2,256.6 1147.8,269.1 1154.4,299.1 1161.0,271.8 1167.6,271.8 1174.2,268.6 1180.7,286.9 1187.3,286.9 1193.9,300.2 1200.5,301.8 1207.1,278.3 1213.7,241.1 1220.3,241.1 1226.9,241.9 1233.4,241.9 1240.0,247.9 1246.6,247.9 1253.2,240.2 1259.8,300.3 1266.4,295.7 1273.0,234.9 1279.6,284.6 1286.1,301.8 1292.7,300.9 1299.3,290.1 1305.9,290.1 1312.5,249.7 1319.1,256.2 1325.7,249.4 1332.2,249.4 1338.8,235.1 1345.4,235.1 1352.0,250.3 1358.6,256.6 1365.2,256.6 1371.8,265.2 1378.4,301.1 1384.9,301.1 1391.5,288.4 1398.1,278.9 1404.7,278.9 1411.3,296.4 1417.9,301.8 1424.5,301.8 1431.1,278.0 1437.6,278.1 1444.2,272.1 1450.8,259.3 1457.4,241.9 1464.0,241.9 1470.6,230.6 1477.2,230.6 1483.8,227.2 1490.3,244.3 1496.9,230.6 1503.5,230.6 1510.1,230.6 1516.7,223.1 1523.3,230.6 1529.9,230.6 1536.4,230.6 1543.0,230.6 1549.6,230.6 1556.2,237.4 1562.8,230.6 1569.4,236.0 1576.0,230.6 1582.6,222.9 1589.1,230.6 1595.7,230.6 1602.3,230.6 1608.9,230.6 1615.5,230.6 1622.1,239.5 1628.7,230.6 1635.3,243.9 1641.8,230.6 1648.4,230.6 1655.0,247.2 1661.6,230.6 1668.2,246.9 1674.8,230.6 1681.4,230.6 1687.9,230.6 1694.5,230.6 1701.1,230.6 1707.7,230.6 1714.3,230.6 1720.9,230.6 1727.5,188.5 1734.1,166.4 1740.6,230.6 1747.2,190.9 1753.8,230.0 1760.4,208.6 1767.0,173.6 1773.6,201.6 1780.2,159.5 1786.8,159.5 1793.3,159.5 1799.9,159.5 1806.5,175.8 1813.1,175.8 1819.7,171.9 1826.3,172.9 1832.9,223.6 1839.4,223.6 1846.0,223.6 1852.6,230.6 1859.2,218.3 1865.8,218.3 1872.4,185.6 1879.0,185.6 1885.6,185.6 1892.1,220.3 1898.7,220.3 1905.3,172.7 1911.9,209.8 1918.5,204.5 1925.1,204.5 1931.7,204.5 1938.3,166.4 1944.8,184.1 1951.4,225.8 1958.0,203.0 1964.6,203.0 1971.2,212.6 1977.8,160.5 1984.4,160.5 1991.0,186.5 1997.5,208.4" stroke="#ff7f0e"/>
<polyline points="344.2,997.3 350.8,978.1 357.4,978.1 364.0,998.1 370.5,1008.7 377.1,1016.5 383.7,1016.5 390.3,963.8 396.9,943.0 403.5,929.1 410.1,924.2 416.7,923.8 423.2,937.8 429.8,941.1 436.4,941.0 443.0,941.0 449.6,905.8 456.2,858.2 462.8,867.4 469.4,882.5 475.9,889.9 482.5,873.0 489.1,866.6 495.7,817.9 502.3,798.4 508.9,798.4 515.5,785.5 522.0,817.8 528.6,788.0 535.2,765.1 541.8,759.8 548.4,759.8 555.0,726.1 561.6,726.6 568.2,713.1 574.7,705.7 581.3,581.8 587.9,585.3 594.5,579.7 601.1,579.7 607.7,591.0 614.3,602.3 620.9,578.6 627.4,579.0 634.0,552.7 640.6,531.1 647.2,558.6 653.8,567.0 660.4,540.8 667.0,554.9 673.5,517.6 680.1,480.1 686.7,485.6 693.3,493.4 699.9,478.3 706.5,478.3 713.1,460.2 719.7,468.1 726.2,468.1 732.8,495.1 739.4,495.1 746.0,414.3 752.6,404.3 759.2,402.7 765.8,381.0 772.4,377.5 778.9,381.3 785.5,381.3 792.1,414.9 798.7,440.7 805.3,489.9 811.9,459.4 818.5,374.9 825.1,377.6 831.6,377.6 838.2,348.9 844.8,348.9 851.4,355.0 858.0,353.1 864.6,353.4 871.2,365.9 877.7,367.0 884.3,342.3 890.9,317.2 897.5,324.9 904.1,329.6 910.7,345.3 917.3,343.0 923.9,343.6 930.4,343.6 937.0,343.6 943.6,302.7 950.2,287.0 956.8,266.9 963.4,244.4 970.0,255.5 976.6,251.3 983.1,294.2 989.7,278.1 996.3,296.7 1002.9,294.4 1009.5,284.3 1016.1,298.0 1022.7,289.1 1029.2,263.1 1035.8,263.1 1042.4,266.5 1049.0,262.2 1055.6,268.3 1062.2,268.3 1068.8,263.8 1075.4,259.8 1081.9,259.8 1088.5,265.2 1095.1,265.2 1101.7,266.3 1108.3,266.3 1114.9,255.8 1121.5,272.8 1128.1,268.8 1134.6,268.8 1141.2,262.4 1147.8,251.5 1154.4,249.6 1161.0,266.8 1167.6,298.1 1174.2,295.6 1180.7,295.6 1187.3,295.6 1193.9,253.4 1200.5,272.2 1207.1,235.9 1213.7,235.9 1220.3,233.1 1226.9,236.7 1233.4,236.7 1240.0,236.7 1246.6,231.6 1253.2,279.3 1259.8,279.3 1266.4,282.6 1273.0,282.6 1279.6,282.6 1286.1,301.8 1292.7,275.7 1299.3,260.6 1305.9,231.0 1312.5,246.9 1319.1,253.9 1325.7,253.9 1332.2,301.8 1338.8,274.3 1345.4,256.9 1352.0,274.4 1358.6,280.8 1365.2,280.8 1371.8,280.8 1378.4,234.2 1384.9,238.7 1391.5,231.6 1398.1,301.1 1404.7,254.4 1411.3,230.6 1417.9,224.4 1424.5,230.6 1431.1,230.6 1437.6,224.2 1444.2,230.6 1450.8,230.6 1457.4,230.6 1464.0,224.1 1470.6,230.6 1477.2,230.6 1483.8,242.2 1490.3,230.6 1496.9,230.6 1503.5,230.6 1510.1,230.6 1516.7,230.6 1523.3,230.6 1529.9,230.6 1536.4,254.7 1543.0,230.6 1549.6,230.6 1556.2,222.6 1562.8,223.5 1569.4,230.6 1576.0,230.6 1582.6,230.6 1589.1,230.6 1595.7,255.4 1602.3,230.6 1608.9,241.1 1615.5,230.6 1622.1,219.4 1628.7,230.6 1635.3,230.6 1641.8,239.3 1648.4,230.6 1655.0,230.6 1661.6,230.6 1668.2,203.0 1674.8,184.7 1681.4,184.4 1687.9,168.0 1694.5,171.2 1701.1,173.4 1707.7,179.8 1714.3,184.8 1720.9,159.9 1727.5,187.9 1734.1,184.0 1740.6,161.0 1747.2,160.8 1753.8,176.3 1760.4,212.1 1767.0,208.5 1773.6,202.8 1780.2,167.2 1786.8,171.3 1793.3,159.5 1799.9,184.2 1806.5,202.3 1813.1,161.1 1819.7,220.3 1826.3,188.7 1832.9,195.1 1839.4,195.1 1846.0,195.1 1852.6,159.5 1859.2,167.6 1865.8,185.4 1872.4,170.5 1879.0,159.5 1885.6,173.5 1892.1,173.5 1898.7,173.5 1905.3,164.6 1911.9,160.9 1918.5,207.5 1925.1,222.9 1931.7,227.7 1938.3,230.6 1944.8,227.6 1951.4,216.2 1958.0,216.2 1964.6,169.7 1971.2,169.7 1977.8,230.6 1984.4,230.6 1991.0,218.0 1997.5,218.0" stroke="#a064cc"/>
<polyline points="344.2,1090.7 350.8,1090.7 357.4,1108.0 364.0,1108.0 370.5,1056.0 377.1,1056.0 383.7,1088.0 390.3,1069.4 396.9,1041.6 403.5,1041.6 410.1,1032.5 416.7,1046.0 423.2,1034.4 429.8,1011.2 436.4,1018.0 443.0,1003.6 449.6,987.9 456.2,998.5 462.8,981.2 469.4,948.7 475.9,936.8 482.5,931.4 489.1,931.4 495.7,918.5 502.3,912.0 508.9,905.3 515.5,888.8 522.0,887.8 528.6,887.8 535.2,855.9 541.8,855.9 548.4,827.5 555.0,822.8 561.6,825.8 568.2,825.8 574.7,776.6 581.3,769.9 587.9,769.9 594.5,680.7 601.1,701.4 607.7,699.7 614.3,676.6 620.9,676.6 627.4,659.6 634.0,659.6 640.6,624.8 647.2,615.2 653.8,610.9 660.4,589.8 667.0,594.4 673.5,616.6 680.1,616.6 686.7,590.9 693.3,580.3 699.9,555.3 706.5,522.6 713.1,540.6 719.7,540.6 726.2,513.9 732.8,532.3 739.4,532.3 746.0,515.5 752.6,516.0 759.2,472.0 765.8,483.4 772.4,484.5 778.9,488.2 785.5,471.9 792.1,510.2 798.7,530.8 805.3,557.9 811.9,561.8 818.5,546.1 825.1,502.1 831.6,514.7 838.2,496.2 844.8,498.4 851.4,483.2 858.0,489.9 864.6,489.9 871.2,473.5 877.7,471.8 884.3,476.4 890.9,482.1 897.5,460.3 904.1,432.5 910.7,412.2 917.3,415.8 923.9,415.8 930.4,402.2 937.0,389.8 943.6,386.3 950.2,384.7 956.8,384.7 963.4,384.7 970.0,372.1 976.6,354.4 983.1,361.0 989.7,377.0 996.3,379.8 1002.9,364.4 1009.5,375.9 1016.1,361.0 1022.7,403.1 1029.2,399.0 1035.8,399.0 1042.4,399.0 1049.0,358.3 1055.6,358.3 1062.2,385.1 1068.8,385.1 1075.4,376.6 1081.9,376.6 1088.5,356.7 1095.1,364.4 1101.7,358.9 1108.3,366.1 1114.9,364.3 1121.5,358.5 1128.1,360.7 1134.6,356.2 1141.2,359.1 1147.8,359.1 1154.4,348.4 1161.0,348.4 1167.6,361.0 1174.2,361.0 1180.7,367.4 1187.3,367.4 1193.9,340.2 1200.5,335.8 1207.1,341.8 1213.7,341.4 1220.3,341.4 1226.9,333.7 1233.4,339.3 1240.0,343.0 1246.6,353.9 1253.2,331.0 1259.8,346.0 1266.4,339.4 1273.0,339.4 1279.6,337.3 1286.1,301.8 1292.7,301.8 1299.3,301.8 1305.9,301.8 1312.5,301.8 1319.1,301.8 1325.7,301.8 1332.2,301.8 1338.8,301.8 1345.4,301.8 1352.0,301.8 1358.6,301.8 1365.2,301.8 1371.8,301.8 1378.4,301.8 1384.9,301.8 1391.5,301.8 1398.1,301.8 1404.7,301.8 1411.3,294.8 1417.9,301.8 1424.5,295.6 1431.1,301.8 1437.6,298.7 1444.2,296.3 1450.8,301.8 1457.4,301.8 1464.0,298.2 1470.6,301.8 1477.2,297.7 1483.8,301.8 1490.3,297.5 1496.9,301.8 1503.5,301.8 1510.1,301.8 1516.7,301.8 1523.3,301.8 1529.9,294.6 1536.4,301.8 1543.0,301.8 1549.6,301.8 1556.2,301.8 1562.8,301.8 1569.4,301.8 1576.0,301.8 1582.6,301.8 1589.1,301.8 1595.7,301.8 1602.3,301.8 1608.9,301.8 1615.5,301.8 1622.1,301.8 1628.7,301.8 1635.3,301.8 1641.8,301.8 1648.4,301.8 1655.0,298.3 1661.6,301.8 1668.2,301.8 1674.8,301.8 1681.4,301.8 1687.9,301.8 1694.5,301.8 1701.1,301.8 1707.7,301.8 1714.3,301.8 1720.9,301.8 1727.5,301.8 1734.1,301.8 1740.6,301.8 1747.2,301.8 1753.8,301.8 1760.4,301.8 1767.0,297.2 1773.6,301.8 1780.2,301.8 1786.8,301.8 1793.3,301.8 1799.9,301.8 1806.5,301.8 1813.1,301.8 1819.7,301.8 1826.3,301.8 1832.9,301.8 1839.4,301.8 1846.0,301.8 1852.6,301.8 1859.2,301.8 1865.8,301.8 1872.4,301.8 1879.0,301.8 1885.6,301.8 1892.1,301.8 1898.7,301.8 1905.3,296.6 1911.9,301.8 1918.5,301.8 1925.1,301.8 1931.7,301.8 1938.3,301.8 1944.8,301.8 1951.4,301.8 1958.0,301.8 1964.6,301.8 1971.2,301.8 1977.8,301.8 1984.4,299.5 1991.0,301.8 1997.5,301.8" stroke="#9a5246"/>
<polyline points="344.2,1080.5 350.8,1080.5 357.4,1070.0 364.0,1086.2 370.5,1058.9 377.1,1067.5 383.7,1078.3 390.3,1078.3 396.9,1078.3 403.5,1052.7 410.1,1044.5 416.7,1042.7 423.2,1042.7 429.8,1028.8 436.4,1000.9 443.0,1000.9 449.6,1004.6 456.2,985.6 462.8,973.8 469.4,956.2 475.9,944.1 482.5,944.1 489.1,933.1 495.7,937.5 502.3,932.0 508.9,913.7 515.5,899.1 522.0,882.2 528.6,886.7 535.2,869.2 541.8,869.2 548.4,869.2 555.0,837.0 561.6,798.9 568.2,798.9 574.7,786.2 581.3,786.2 587.9,725.5 594.5,714.3 601.1,717.7 607.7,718.2 614.3,700.8 620.9,687.8 627.4,671.3 634.0,642.9 640.6,635.2 647.2,618.9 653.8,618.0 660.4,618.0 667.0,610.6 673.5,605.4 680.1,595.6 686.7,605.1 693.3,605.1 699.9,564.0 706.5,569.4 713.1,569.4 719.7,529.9 726.2,520.1 732.8,507.9 739.4,507.9 746.0,530.8 752.6,492.6 759.2,494.3 765.8,500.9 772.4,487.1 778.9,459.1 785.5,473.4 792.1,518.7 798.7,529.5 805.3,556.1 811.9,556.1 818.5,556.1 825.1,527.3 831.6,499.7 838.2,499.7 844.8,499.9 851.4,464.8 858.0,466.9 864.6,444.2 871.2,444.2 877.7,444.2 884.3,444.2 890.9,490.9 897.5,471.7 904.1,434.7 910.7,434.7 917.3,421.5 923.9,421.5 930.4,421.5 937.0,415.6 943.6,410.9 950.2,404.8 956.8,414.7 963.4,393.7 970.0,393.7 976.6,363.3 983.1,363.3 989.7,391.4 996.3,375.7 1002.9,386.6 1009.5,374.7 1016.1,388.4 1022.7,388.4 1029.2,405.1 1035.8,405.1 1042.4,394.8 1049.0,394.8 1055.6,391.4 1062.2,398.0 1068.8,393.6 1075.4,386.9 1081.9,386.9 1088.5,376.4 1095.1,376.4 1101.7,363.2 1108.3,355.5 1114.9,362.7 1121.5,356.4 1128.1,356.4 1134.6,367.1 1141.2,367.1 1147.8,349.6 1154.4,353.9 1161.0,341.9 1167.6,354.5 1174.2,354.5 1180.7,348.6 1187.3,341.9 1193.9,345.5 1200.5,344.8 1207.1,341.0 1213.7,341.0 1220.3,329.0 1226.9,344.5 1233.4,335.8 1240.0,331.7 1246.6,338.7 1253.2,330.3 1259.8,337.4 1266.4,343.7 1273.0,346.1 1279.6,346.1 1286.1,301.8 1292.7,301.8 1299.3,301.8 1305.9,301.8 1312.5,301.8 1319.1,301.8 1325.7,301.8 1332.2,301.8 1338.8,301.8 1345.4,295.2 1352.0,301.8 1358.6,301.8 1365.2,301.8 1371.8,301.8 1378.4,301.8 1384.9,301.8 1391.5,301.8 1398.1,301.8 1404.7,296.7 1411.3,301.8 1417.9,301.8 1424.5,301.8 1431.1,301.8 1437.6,301.8 1444.2,301.8 1450.8,301.8 1457.4,301.8 1464.0,301.8 1470.6,301.8 1477.2,301.8 1483.8,301.8 1490.3,296.4 1496.9,301.8 1503.5,293.1 1510.1,301.8 1516.7,301.8 1523.3,301.8 1529.9,301.8 1536.4,301.8 1543.0,301.8 1549.6,301.8 1556.2,301.8 1562.8,301.8 1569.4,301.8 1576.0,301.8 1582.6,301.8 1589.1,301.8 1595.7,301.8 1602.3,301.8 1608.9,297.7 1615.5,301.8 1622.1,301.8 1628.7,301.8 1635.3,301.8 1641.8,301.8 1648.4,301.8 1655.0,301.8 1661.6,301.8 1668.2,301.8 1674.8,301.8 1681.4,301.8 1687.9,301.8 1694.5,301.8 1701.1,301.8 1707.7,301.8 1714.3,301.8 1720.9,301.8 1727.5,301.8 1734.1,301.8 1740.6,301.8 1747.2,301.8 1753.8,295.2 1760.4,297.6 1767.0,301.8 1773.6,301.8 1780.2,301.8 1786.8,301.8 1793.3,301.8 1799.9,301.8 1806.5,301.8 1813.1,301.8 1819.7,301.8 1826.3,296.8 1832.9,297.5 1839.4,301.8 1846.0,301.8 1852.6,301.8 1859.2,301.8 1865.8,301.8 1872.4,301.8 1879.0,301.8 1885.6,301.8 1892.1,301.8 1898.7,301.8 1905.3,301.8 1911.9,301.8 1918.5,301.8 1925.1,301.8 1931.7,301.8 1938.3,301.8 1944.8,301.8 1951.4,301.8 1958.0,301.8 1964.6,301.8 1971.2,301.8 1977.8,298.3 1984.4,301.8 1991.0,301.8 1997.5,296.5" stroke="#ff7f0e"/>
<polyline points="344.2,1071.1 350.8,1066.6 357.4,1072.4 364.0,1053.2 370.5,1072.9 377.1,1079.4 383.7,1079.4 390.3,1079.4 396.9,1058.3 403.5,1056.5 410.1,1043.1 416.7,1047.8 423.2,1040.2 429.8,1052.8 436.4,1034.9 443.0,1005.0 449.6,1023.1 456.2,1001.2 462.8,989.0 469.4,986.8 475.9,986.8 482.5,947.8 489.1,947.8 495.7,919.9 502.3,919.9 508.9,888.8 515.5,888.8 522.0,878.4 528.6,846.1 535.2,836.3 541.8,843.1 548.4,840.6 555.0,850.8 561.6,843.9 568.2,838.6 574.7,838.6 581.3,838.6 587.9,701.6 594.5,690.8 601.1,679.7 607.7,669.2 614.3,673.7 620.9,671.6 627.4,667.3 634.0,667.3 640.6,650.9 647.2,608.9 653.8,620.6 660.4,612.2 667.0,614.6 673.5,588.0 680.1,588.5 686.7,588.5 693.3,588.5 699.9,570.4 706.5,562.3 713.1,554.8 719.7,528.0 726.2,512.2 732.8,515.9 739.4,515.9 746.0,475.8 752.6,462.7 759.2,487.9 765.8,487.9 772.4,487.9 778.9,487.9 785.5,456.6 792.1,471.3 798.7,517.2 805.3,547.7 811.9,546.0 818.5,546.0 825.1,498.4 831.6,464.2 838.2,466.8 844.8,450.6 851.4,437.9 858.0,440.8 864.6,442.8 871.2,433.2 877.7,429.9 884.3,429.9 890.9,408.6 897.5,403.1 904.1,394.9 910.7,395.7 917.3,395.7 923.9,396.8 930.4,379.6 937.0,396.9 943.6,386.0 950.2,386.0 956.8,356.1 963.4,356.1 970.0,334.3 976.6,334.3 983.1,326.5 989.7,343.2 996.3,335.3 1002.9,343.3 1009.5,352.5 1016.1,367.8 1022.7,363.5 1029.2,366.9 1035.8,366.9 1042.4,366.9 1049.0,349.2 1055.6,357.4 1062.2,351.9 1068.8,369.1 1075.4,386.7 1081.9,387.9 1088.5,387.9 1095.1,370.1 1101.7,373.6 1108.3,370.5 1114.9,365.7 1121.5,349.8 1128.1,354.3 1134.6,358.6 1141.2,358.6 1147.8,354.0 1154.4,363.6 1161.0,348.6 1167.6,346.7 1174.2,351.2 1180.7,354.0 1187.3,328.3 1193.9,335.6 1200.5,345.8 1207.1,345.8 1213.7,324.0 1220.3,336.7 1226.9,326.1 1233.4,337.5 1240.0,334.1 1246.6,324.2 1253.2,318.4 1259.8,328.9 1266.4,323.1 1273.0,323.1 1279.6,326.1 1286.1,301.8 1292.7,301.8 1299.3,301.8 1305.9,301.8 1312.5,301.8 1319.1,301.8 1325.7,301.8 1332.2,296.3 1338.8,301.8 1345.4,301.8 1352.0,301.8 1358.6,301.8 1365.2,301.8 1371.8,301.8 1378.4,301.8 1384.9,301.8 1391.5,301.8 1398.1,301.8 1404.7,301.8 1411.3,301.8 1417.9,293.9 1424.5,301.8 1431.1,301.8 1437.6,301.8 1444.2,301.8 1450.8,301.8 1457.4,301.8 1464.0,301.8 1470.6,299.5 1477.2,301.8 1483.8,301.8 1490.3,301.8 1496.9,301.8 1503.5,301.8 1510.1,301.8 1516.7,301.8 1523.3,292.0 1529.9,301.8 1536.4,301.8 1543.0,301.8 1549.6,301.8 1556.2,301.8 1562.8,299.0 1569.4,301.8 1576.0,294.8 1582.6,301.8 1589.1,301.8 1595.7,301.8 1602.3,298.1 1608.9,301.8 1615.5,301.8 1622.1,301.8 1628.7,301.8 1635.3,301.8 1641.8,301.8 1648.4,301.8 1655.0,301.8 1661.6,301.8 1668.2,301.8 1674.8,301.8 1681.4,301.8 1687.9,301.8 1694.5,297.7 1701.1,301.8 1707.7,301.8 1714.3,301.8 1720.9,301.8 1727.5,301.8 1734.1,301.8 1740.6,299.6 1747.2,301.8 1753.8,301.8 1760.4,301.8 1767.0,301.8 1773.6,301.8 1780.2,301.8 1786.8,301.8 1793.3,301.8 1799.9,301.8 1806.5,301.8 1813.1,301.8 1819.7,301.8 1826.3,301.8 1832.9,301.8 1839.4,301.8 1846.0,301.8 1852.6,301.8 1859.2,301.8 1865.8,301.8 1872.4,301.8 1879.0,301.8 1885.6,301.8 1892.1,301.8 1898.7,301.8 1905.3,301.8 1911.9,301.8 1918.5,301.8 1925.1,301.8 1931.7,301.8 1938.3,301.8 1944.8,301.8 1951.4,301.8 1958.0,297.2 1964.6,301.8 1971.2,301.8 1977.8,301.8 1984.4,301.8 1991.0,301.8 1997.5,301.8" stroke="#c2bd12"/>
<polyline points="344.2,1040.9 350.8,1036.4 357.4,1030.3 364.0,1012.1 370.5,1021.2 377.1,1031.7 383.7,1053.2 390.3,1047.8 396.9,1019.4 403.5,1006.4 410.1,1002.5 416.7,994.4 423.2,999.0 429.8,1003.8 436.4,976.9 443.0,975.7 449.6,962.9 456.2,952.7 462.8,940.4 469.4,947.9 475.9,947.9 482.5,898.1 489.1,865.6 495.7,852.6 502.3,848.2 508.9,837.3 515.5,838.1 522.0,809.8 528.6,803.0 535.2,791.0 541.8,785.4 548.4,777.7 555.0,798.7 561.6,798.7 568.2,777.1 574.7,739.2 581.3,705.2 587.9,641.4 594.5,630.8 601.1,630.8 607.7,625.2 614.3,600.2 620.9,593.4 627.4,610.6 634.0,577.7 640.6,584.1 647.2,575.3 653.8,568.6 660.4,577.6 667.0,550.1 673.5,529.2 680.1,523.0 686.7,509.3 693.3,509.3 699.9,510.2 706.5,510.2 713.1,500.9 719.7,481.5 726.2,481.5 732.8,453.7 739.4,446.9 746.0,446.9 752.6,446.9 759.2,434.8 765.8,457.5 772.4,436.7 778.9,416.8 785.5,423.7 792.1,447.9 798.7,447.9 805.3,447.9 811.9,447.9 818.5,477.9 825.1,456.8 831.6,433.7 838.2,430.4 844.8,428.9 851.4,422.9 858.0,409.6 864.6,391.7 871.2,369.1 877.7,386.1 884.3,400.3 890.9,400.3 897.5,375.3 904.1,364.2 910.7,348.2 917.3,363.4 923.9,363.4 930.4,345.8 937.0,350.5 943.6,363.3 950.2,355.8 956.8,321.0 963.4,335.6 970.0,327.0 976.6,310.4 983.1,301.7 989.7,322.4 996.3,297.4 1002.9,315.6 1009.5,290.0 1016.1,334.3 1022.7,348.2 1029.2,348.1 1035.8,348.1 1042.4,321.0 1049.0,321.0 1055.6,315.6 1062.2,315.6 1068.8,339.2 1075.4,339.2 1081.9,348.3 1088.5,344.9 1095.1,344.9 1101.7,338.7 1108.3,332.7 1114.9,332.7 1121.5,320.0 1128.1,311.5 1134.6,322.2 1141.2,322.2 1147.8,322.2 1154.4,312.5 1161.0,309.0 1167.6,320.8 1174.2,313.2 1180.7,313.2 1187.3,305.8 1193.9,302.8 1200.5,302.8 1207.1,299.2 1213.7,297.0 1220.3,307.8 1226.9,294.3 1233.4,297.2 1240.0,302.5 1246.6,302.5 1253.2,283.6 1259.8,289.1 1266.4,290.9 1273.0,292.2 1279.6,287.6 1286.1,230.6 1292.7,230.6 1299.3,230.6 1305.9,230.6 1312.5,230.6 1319.1,230.6 1325.7,230.6 1332.2,230.6 1338.8,230.6 1345.4,230.6 1352.0,230.6 1358.6,230.6 1365.2,230.6 1371.8,230.6 1378.4,230.6 1384.9,230.6 1391.5,230.6 1398.1,230.6 1404.7,230.6 1411.3,230.6 1417.9,230.6 1424.5,230.6 1431.1,230.6 1437.6,230.6 1444.2,230.6 1450.8,230.6 1457.4,230.6 1464.0,230.6 1470.6,230.6 1477.2,230.6 1483.8,230.6 1490.3,230.6 1496.9,230.6 1503.5,230.6 1510.1,230.6 1516.7,230.6 1523.3,230.6 1529.9,230.6 1536.4,230.6 1543.0,230.6 1549.6,230.6 1556.2,230.6 1562.8,230.6 1569.4,230.6 1576.0,230.6 1582.6,238.5 1589.1,230.6 1595.7,230.6 1602.3,230.6 1608.9,230.6 1615.5,230.6 1622.1,230.6 1628.7,230.6 1635.3,230.6 1641.8,230.6 1648.4,230.6 1655.0,230.6 1661.6,230.6 1668.2,230.6 1674.8,230.6 1681.4,230.6 1687.9,230.6 1694.5,230.6 1701.1,230.6 1707.7,230.6 1714.3,230.6 1720.9,230.6 1727.5,230.6 1734.1,230.6 1740.6,230.6 1747.2,230.6 1753.8,230.6 1760.4,230.6 1767.0,230.6 1773.6,237.6 1780.2,230.6 1786.8,230.6 1793.3,230.6 1799.9,230.6 1806.5,230.6 1813.1,230.6 1819.7,230.6 1826.3,230.6 1832.9,230.6 1839.4,230.6 1846.0,230.6 1852.6,239.7 1859.2,230.6 1865.8,238.2 1872.4,230.6 1879.0,230.6 1885.6,230.6 1892.1,230.6 1898.7,230.6 1905.3,230.6 1911.9,230.6 1918.5,230.6 1925.1,230.6 1931.7,230.6 1938.3,230.6 1944.8,230.6 1951.4,230.6 1958.0,230.6 1964.6,230.6 1971.2,230.6 1977.8,230.6 1984.4,230.6 1991.0,230.6 1997.5,230.6" stroke="#f21c1c"/>
<polyline points="344.2,1029.1 350.8,1047.4 357.4,1046.9 364.0,1042.9 370.5,1023.6 377.1,1063.8 383.7,1063.8 390.3,1058.0 396.9,1058.0 403.5,1012.5 410.1,1013.3 416.7,1013.3 423.2,1015.8 429.8,1002.6 436.4,1009.5 443.0,975.6 449.6,969.7 456.2,976.6 462.8,960.8 469.4,952.5 475.9,918.0 482.5,912.4 489.1,873.1 495.7,873.1 502.3,852.3 508.9,852.3 515.5,852.3 522.0,813.0 528.6,807.7 535.2,810.8 541.8,794.5 548.4,801.2 555.0,801.3 561.6,792.0 568.2,793.8 574.7,758.5 581.3,758.5 587.9,758.5 594.5,651.7 601.1,650.9 607.7,634.2 614.3,634.2 620.9,630.1 627.4,610.5 634.0,582.6 640.6,591.4 647.2,592.8 653.8,592.8 660.4,581.4 667.0,567.2 673.5,548.5 680.1,535.0 686.7,535.0 693.3,524.5 699.9,525.9 706.5,525.9 713.1,506.8 719.7,506.8 726.2,506.8 732.8,470.4 739.4,461.2 746.0,440.0 752.6,446.4 759.2,430.1 765.8,467.1 772.4,444.6 778.9,436.4 785.5,434.8 792.1,444.7 798.7,487.1 805.3,517.1 811.9,523.0 818.5,493.0 825.1,456.0 831.6,439.3 838.2,443.3 844.8,418.4 851.4,427.7 858.0,427.7 864.6,427.7 871.2,427.7 877.7,389.4 884.3,378.1 890.9,378.1 897.5,375.5 904.1,362.9 910.7,359.9 917.3,357.8 923.9,365.9 930.4,350.5 937.0,348.9 943.6,348.9 950.2,349.8 956.8,319.0 963.4,329.1 970.0,325.1 976.6,325.1 983.1,298.2 989.7,298.2 996.3,298.2 1002.9,298.2 1009.5,298.2 1016.1,324.5 1022.7,324.5 1029.2,349.6 1035.8,330.6 1042.4,301.5 1049.0,325.1 1055.6,341.1 1062.2,337.7 1068.8,344.8 1075.4,363.2 1081.9,363.2 1088.5,340.2 1095.1,334.3 1101.7,334.3 1108.3,334.3 1114.9,342.1 1121.5,342.1 1128.1,341.8 1134.6,333.0 1141.2,321.3 1147.8,321.3 1154.4,315.0 1161.0,312.6 1167.6,309.0 1174.2,309.0 1180.7,319.5 1187.3,319.5 1193.9,310.3 1200.5,299.0 1207.1,301.0 1213.7,301.0 1220.3,301.0 1226.9,307.2 1233.4,307.2 1240.0,331.3 1246.6,309.7 1253.2,312.2 1259.8,308.1 1266.4,312.0 1273.0,304.7 1279.6,305.9 1286.1,301.8 1292.7,301.8 1299.3,301.8 1305.9,301.8 1312.5,301.8 1319.1,301.8 1325.7,301.8 1332.2,299.6 1338.8,301.8 1345.4,295.1 1352.0,298.2 1358.6,301.8 1365.2,301.8 1371.8,301.8 1378.4,301.8 1384.9,301.8 1391.5,301.8 1398.1,301.8 1404.7,301.8 1411.3,301.8 1417.9,301.8 1424.5,301.8 1431.1,296.5 1437.6,301.8 1444.2,301.8 1450.8,301.8 1457.4,301.8 1464.0,301.8 1470.6,301.8 1477.2,301.8 1483.8,301.8 1490.3,301.8 1496.9,301.8 1503.5,301.8 1510.1,301.8 1516.7,301.8 1523.3,301.8 1529.9,301.8 1536.4,301.8 1543.0,301.8 1549.6,301.8 1556.2,301.8 1562.8,301.8 1569.4,301.8 1576.0,301.8 1582.6,301.8 1589.1,301.8 1595.7,301.8 1602.3,301.8 1608.9,301.8 1615.5,301.8 1622.1,295.1 1628.7,297.7 1635.3,301.8 1641.8,301.8 1648.4,301.8 1655.0,301.8 1661.6,293.0 1668.2,301.8 1674.8,298.0 1681.4,301.8 1687.9,301.8 1694.5,301.8 1701.1,301.8 1707.7,301.8 1714.3,301.8 1720.9,301.8 1727.5,301.8 1734.1,301.8 1740.6,301.8 1747.2,301.8 1753.8,301.8 1760.4,301.8 1767.0,301.8 1773.6,301.8 1780.2,301.8 1786.8,301.8 1793.3,301.8 1799.9,301.8 1806.5,301.8 1813.1,301.8 1819.7,301.8 1826.3,301.8 1832.9,301.8 1839.4,301.8 1846.0,293.5 1852.6,301.8 1859.2,301.8 1865.8,301.8 1872.4,301.8 1879.0,301.8 1885.6,298.8 1892.1,301.8 1898.7,301.8 1905.3,301.8 1911.9,301.8 1918.5,301.8 1925.1,301.8 1931.7,299.5 1938.3,301.8 1944.8,301.8 1951.4,301.8 1958.0,301.8 1964.6,301.8 1971.2,301.8 1977.8,301.8 1984.4,301.8 1991.0,301.8 1997.5,294.7" stroke="#9a5246"/>
<polyline points="344.2,1031.7 350.8,1031.7 357.4,1028.6 364.0,1047.2 370.5,1047.2 377.1,1047.2 383.7,1042.3 390.3,990.8 396.9,990.8 403.5,944.1 410.1,944.1 416.7,944.1 423.2,960.3 429.8,944.9 436.4,944.9 443.0,957.9 449.6,943.4 456.2,898.8 462.8,881.6 469.4,892.2 475.9,888.3 482.5,888.3 489.1,865.2 495.7,835.8 502.3,812.5 508.9,816.1 515.5,825.3 522.0,825.3 528.6,811.9 535.2,781.1 541.8,775.7 548.4,734.5 555.0,734.5 561.6,739.9 568.2,738.3 574.7,730.1 581.3,613.7 587.9,600.5 594.5,606.4 601.1,599.3 607.7,607.3 614.3,605.1 620.9,619.5 627.4,591.3 634.0,591.3 640.6,552.6 647.2,573.5 653.8,573.5 660.4,608.8 667.0,567.1 673.5,567.1 680.1,486.8 686.7,493.8 693.3,493.8 699.9,490.5 706.5,475.1 713.1,441.5 719.7,476.5 726.2,476.5 732.8,504.3 739.4,508.7 746.0,508.7 752.6,409.3 759.2,410.0 765.8,410.0 772.4,384.6 778.9,378.4 785.5,348.6 792.1,402.0 798.7,457.4 805.3,493.9 811.9,493.9 818.5,475.7 825.1,475.7 831.6,418.1 838.2,429.5 844.8,429.5 851.4,429.8 858.0,429.8 864.6,414.8 871.2,393.7 877.7,393.7 884.3,352.7 890.9,336.7 897.5,336.7 904.1,333.1 910.7,340.8 917.3,340.8 923.9,373.1 930.4,373.1 937.0,345.3 943.6,345.3 950.2,313.4 956.8,284.4 963.4,270.2 970.0,288.3 976.6,295.4 983.1,295.3 989.7,311.6 996.3,311.6 1002.9,325.3 1009.5,339.5 1016.1,298.3 1022.7,298.3 1029.2,309.9 1035.8,308.4 1042.4,295.5 1049.0,295.5 1055.6,289.1 1062.2,300.5 1068.8,292.1 1075.4,298.8 1081.9,298.8 1088.5,285.4 1095.1,292.1 1101.7,292.1 1108.3,284.3 1114.9,297.9 1121.5,261.6 1128.1,288.5 1134.6,297.1 1141.2,290.9 1147.8,290.9 1154.4,292.5 1161.0,292.5 1167.6,292.5 1174.2,280.8 1180.7,230.6 1187.3,230.6 1193.9,230.6 1200.5,230.6 1207.1,230.6 1213.7,234.1 1220.3,230.6 1226.9,230.6 1233.4,230.6 1240.0,230.6 1246.6,237.0 1253.2,230.6 1259.8,230.6 1266.4,230.6 1273.0,230.6 1279.6,230.6 1286.1,230.6 1292.7,230.6 1299.3,230.6 1305.9,230.6 1312.5,230.6 1319.1,230.6 1325.7,230.6 1332.2,230.6 1338.8,230.6 1345.4,230.6 1352.0,230.6 1358.6,232.6 1365.2,230.6 1371.8,230.6 1378.4,236.9 1384.9,230.6 1391.5,230.6 1398.1,230.6 1404.7,230.6 1411.3,230.6 1417.9,230.6 1424.5,230.6 1431.1,230.6 1437.6,230.6 1444.2,230.6 1450.8,230.6 1457.4,230.6 1464.0,230.6 1470.6,230.6 1477.2,230.6 1483.8,230.6 1490.3,230.6 1496.9,230.6 1503.5,230.6 1510.1,230.6 1516.7,230.6 1523.3,230.6 1529.9,230.6 1536.4,230.6 1543.0,230.6 1549.6,230.6 1556.2,232.9 1562.8,230.6 1569.4,230.6 1576.0,233.6 1582.6,230.6 1589.1,230.6 1595.7,230.6 1602.3,230.6 1608.9,230.6 1615.5,230.6 1622.1,230.6 1628.7,230.6 1635.3,230.6 1641.8,230.6 1648.4,230.6 1655.0,230.6 1661.6,230.6 1668.2,230.6 1674.8,236.8 1681.4,230.6 1687.9,230.6 1694.5,230.6 1701.1,230.6 1707.7,240.6 1714.3,230.6 1720.9,230.6 1727.5,230.6 1734.1,230.6 1740.6,230.6 1747.2,230.6 1753.8,230.6 1760.4,230.6 1767.0,230.6 1773.6,230.6 1780.2,230.6 1786.8,230.6 1793.3,230.6 1799.9,230.6 1806.5,230.6 1813.1,230.6 1819.7,230.6 1826.3,230.6 1832.9,230.6 1839.4,230.6 1846.0,230.6 1852.6,230.6 1859.2,230.6 1865.8,239.6 1872.4,230.6 1879.0,230.6 1885.6,230.6 1892.1,230.6 1898.7,230.6 1905.3,235.4 1911.9,230.6 1918.5,230.6 1925.1,230.6 1931.7,230.6 1938.3,230.6 1944.8,230.6 1951.4,230.6 1958.0,230.6 1964.6,230.6 1971.2,230.6 1977.8,230.6 1984.4,230.6 1991.0,232.7 1997.5,239.1" stroke="#9a5246"/>
<polyline points="344.2,968.6 350.8,960.8 357.4,979.7 364.0,998.7 370.5,999.6 377.1,999.1 383.7,1008.5 390.3,963.5 396.9,930.6 403.5,929.6 410.1,929.6 416.7,919.1 423.2,892.8 429.8,923.2 436.4,923.2 443.0,923.2 449.6,923.2 456.2,848.8 462.8,850.6 469.4,845.1 475.9,842.1 482.5,851.7 489.1,842.8 495.7,796.1 502.3,794.8 508.9,784.2 515.5,775.5 522.0,775.5 528.6,775.2 535.2,775.2 541.8,775.2 548.4,720.5 555.0,692.2 561.6,706.2 568.2,719.2 574.7,689.7 581.3,689.7 587.9,689.7 594.5,577.2 601.1,576.5 607.7,576.5 614.3,557.6 620.9,564.4 627.4,554.0 634.0,534.5 640.6,525.2 647.2,526.1 653.8,562.5 660.4,556.1 667.0,556.1 673.5,504.3 680.1,448.8 686.7,458.3 693.3,458.3 699.9,447.1 706.5,435.0 713.1,464.5 719.7,464.5 726.2,464.7 732.8,464.7 739.4,462.8 746.0,393.2 752.6,371.6 759.2,366.9 765.8,366.9 772.4,366.9 778.9,366.9 785.5,326.3 792.1,340.7 798.7,409.2 805.3,439.3 811.9,456.5 818.5,423.0 825.1,408.7 831.6,413.9 838.2,413.9 844.8,401.5 851.4,410.0 858.0,370.9 864.6,371.8 871.2,350.4 877.7,349.4 884.3,311.3 890.9,297.4 897.5,304.5 904.1,287.9 910.7,302.8 917.3,320.5 923.9,322.3 930.4,312.0 937.0,312.0 943.6,276.9 950.2,259.1 956.8,255.4 963.4,232.6 970.0,228.1 976.6,228.1 983.1,255.5 989.7,269.4 996.3,280.0 1002.9,280.4 1009.5,274.2 1016.1,269.3 1022.7,269.3 1029.2,269.3 1035.8,269.8 1042.4,269.8 1049.0,261.8 1055.6,261.8 1062.2,255.1 1068.8,255.9 1075.4,251.2 1081.9,261.4 1088.5,258.0 1095.1,258.0 1101.7,243.0 1108.3,255.6 1114.9,252.3 1121.5,252.3 1128.1,252.3 1134.6,254.9 1141.2,251.5 1147.8,248.9 1154.4,261.6 1161.0,261.6 1167.6,261.6 1174.2,246.8 1180.7,255.0 1187.3,245.8 1193.9,250.0 1200.5,248.1 1207.1,243.4 1213.7,252.1 1220.3,230.6 1226.9,230.6 1233.4,230.6 1240.0,230.6 1246.6,230.6 1253.2,230.6 1259.8,230.6 1266.4,230.6 1273.0,230.6 1279.6,230.6 1286.1,230.6 1292.7,230.6 1299.3,230.6 1305.9,230.6 1312.5,230.6 1319.1,230.6 1325.7,230.6 1332.2,230.6 1338.8,230.6 1345.4,230.6 1352.0,230.6 1358.6,230.6 1365.2,230.6 1371.8,230.6 1378.4,230.6 1384.9,230.6 1391.5,230.6 1398.1,230.6 1404.7,230.6 1411.3,230.6 1417.9,230.6 1424.5,230.6 1431.1,230.6 1437.6,230.6 1444.2,230.6 1450.8,230.6 1457.4,230.6 1464.0,233.0 1470.6,230.6 1477.2,230.6 1483.8,230.6 1490.3,230.6 1496.9,230.6 1503.5,230.6 1510.1,237.3 1516.7,230.6 1523.3,230.6 1529.9,230.6 1536.4,230.6 1543.0,230.6 1549.6,230.6 1556.2,230.6 1562.8,230.6 1569.4,230.6 1576.0,230.6 1582.6,230.6 1589.1,230.6 1595.7,230.6 1602.3,230.6 1608.9,230.6 1615.5,230.6 1622.1,230.6 1628.7,230.6 1635.3,230.6 1641.8,235.2 1648.4,230.6 1655.0,230.6 1661.6,230.6 1668.2,230.6 1674.8,230.6 1681.4,230.6 1687.9,230.6 1694.5,230.6 1701.1,230.6 1707.7,230.6 1714.3,230.6 1720.9,230.6 1727.5,230.6 1734.1,230.6 1740.6,230.6 1747.2,230.6 1753.8,230.6 1760.4,230.6 1767.0,230.6 1773.6,230.6 1780.2,230.6 1786.8,230.6 1793.3,230.6 1799.9,233.2 1806.5,230.6 1813.1,230.6 1819.7,230.6 1826.3,239.1 1832.9,234.4 1839.4,230.6 1846.0,230.6 1852.6,240.2 1859.2,230.6 1865.8,230.6 1872.4,230.6 1879.0,230.6 1885.6,230.6 1892.1,230.6 1898.7,230.6 1905.3,230.6 1911.9,230.6 1918.5,230.6 1925.1,230.6 1931.7,230.6 1938.3,230.6 1944.8,230.6 1951.4,230.6 1958.0,230.6 1964.6,230.6 1971.2,230.6 1977.8,230.6 1984.4,230.6 1991.0,230.6 1997.5,230.6" stroke="#ff7f0e"/>
<polyline points="344.2,975.2 350.8,975.2 357.4,987.6 364.0,994.7 370.5,984.9 377.1,978.9 383.7,1011.9 390.3,949.8 396.9,924.6 403.5,915.6 410.1,925.1 416.7,924.7 423.2,907.2 429.8,920.8 436.4,920.8 443.0,911.0 449.6,917.4 456.2,873.4 462.8,873.4 469.4,842.7 475.9,842.7 482.5,828.7 489.1,848.8 495.7,793.8 502.3,775.4 508.9,783.5 515.5,774.7 522.0,786.8 528.6,786.8 535.2,770.8 541.8,741.0 548.4,726.3 555.0,720.5 561.6,707.8 568.2,717.2 574.7,694.1 581.3,581.8 587.9,583.6 594.5,583.6 601.1,590.1 607.7,575.7 614.3,575.7 620.9,580.9 627.4,580.9 634.0,580.9 640.6,515.8 647.2,553.7 653.8,560.5 660.4,560.5 667.0,560.5 673.5,512.6 680.1,477.5 686.7,466.6 693.3,460.2 699.9,464.2 706.5,446.8 713.1,426.9 719.7,453.9 726.2,453.9 732.8,496.1 739.4,475.4 746.0,399.6 752.6,383.2 759.2,364.1 765.8,375.1 772.4,369.9 778.9,344.0 785.5,344.0 792.1,381.6 798.7,381.6 805.3,475.5 811.9,475.5 818.5,451.1 825.1,430.6 831.6,430.6 838.2,418.5 844.8,419.6 851.4,379.9 858.0,400.0 864.6,372.0 871.2,377.1 877.7,377.1 884.3,331.2 890.9,331.2 897.5,310.9 904.1,310.9 910.7,314.9 917.3,313.9 923.9,349.5 930.4,325.3 937.0,325.3 943.6,303.4 950.2,279.8 956.8,268.3 963.4,257.5 970.0,257.5 976.6,269.1 983.1,271.7 989.7,281.7 996.3,301.5 1002.9,278.1 1009.5,287.4 1016.1,293.3 1022.7,294.7 1029.2,269.7 1035.8,282.6 1042.4,281.2 1049.0,281.2 1055.6,268.7 1062.2,279.8 1068.8,258.5 1075.4,277.6 1081.9,271.2 1088.5,266.9 1095.1,268.8 1101.7,262.7 1108.3,270.8 1114.9,270.8 1121.5,266.6 1128.1,254.3 1134.6,273.2 1141.2,270.5 1147.8,271.3 1154.4,269.4 1161.0,270.1 1167.6,273.0 1174.2,272.7 1180.7,275.2 1187.3,230.6 1193.9,235.4 1200.5,230.6 1207.1,230.6 1213.7,230.6 1220.3,230.6 1226.9,230.6 1233.4,230.6 1240.0,230.6 1246.6,230.6 1253.2,230.6 1259.8,230.6 1266.4,230.6 1273.0,230.6 1279.6,230.6 1286.1,230.6 1292.7,230.6 1299.3,230.6 1305.9,230.6 1312.5,230.6 1319.1,230.6 1325.7,230.6 1332.2,230.6 1338.8,230.6 1345.4,230.6 1352.0,230.6 1358.6,230.6 1365.2,230.6 1371.8,239.1 1378.4,230.6 1384.9,230.6 1391.5,230.6 1398.1,230.6 1404.7,230.6 1411.3,230.6 1417.9,237.0 1424.5,230.6 1431.1,235.2 1437.6,230.6 1444.2,230.6 1450.8,230.6 1457.4,230.6 1464.0,230.6 1470.6,230.6 1477.2,240.0 1483.8,230.6 1490.3,230.6 1496.9,230.6 1503.5,230.6 1510.1,230.6 1516.7,230.6 1523.3,230.6 1529.9,230.6 1536.4,230.6 1543.0,230.6 1549.6,230.6 1556.2,233.7 1562.8,230.6 1569.4,230.6 1576.0,230.6 1582.6,230.6 1589.1,230.6 1595.7,230.6 1602.3,230.6 1608.9,230.6 1615.5,230.6 1622.1,230.6 1628.7,230.6 1635.3,230.6 1641.8,230.6 1648.4,230.6 1655.0,230.6 1661.6,230.6 1668.2,230.6 1674.8,230.6 1681.4,230.6 1687.9,237.4 1694.5,230.6 1701.1,234.5 1707.7,230.6 1714.3,230.6 1720.9,230.6 1727.5,230.6 1734.1,230.6 1740.6,230.6 1747.2,239.7 1753.8,230.6 1760.4,230.6 1767.0,230.6 1773.6,230.6 1780.2,230.6 1786.8,218.9 1793.3,211.9 1799.9,159.5 1806.5,159.5 1813.1,159.5 1819.7,159.5 1826.3,159.5 1832.9,159.5 1839.4,159.5 1846.0,159.5 1852.6,159.5 1859.2,159.5 1865.8,159.5 1872.4,159.5 1879.0,159.5 1885.6,159.5 1892.1,159.5 1898.7,159.5 1905.3,159.5 1911.9,159.5 1918.5,159.5 1925.1,159.5 1931.7,159.5 1938.3,159.5 1944.8,159.5 1951.4,159.5 1958.0,159.5 1964.6,159.5 1971.2,159.5 1977.8,159.5 1984.4,159.5 1991.0,159.5 1997.5,159.5" stroke="#0ca02c"/>
<polyline points="344.2,1020.3 350.8,999.4 357.4,1017.2 364.0,1017.2 370.5,1017.2 377.1,1032.6 383.7,1036.5 390.3,977.2 396.9,947.1 403.5,942.2 410.1,952.1 416.7,927.5 423.2,936.7 429.8,936.7 436.4,953.9 443.0,960.3 449.6,921.2 456.2,857.9 462.8,857.9 469.4,891.4 475.9,880.5 482.5,864.7 489.1,869.1 495.7,827.9 502.3,831.8 508.9,831.8 515.5,802.8 522.0,797.6 528.6,793.1 535.2,781.0 541.8,760.2 548.4,743.5 555.0,743.5 561.6,726.3 568.2,720.0 574.7,695.0 581.3,581.8 587.9,586.8 594.5,577.1 601.1,577.1 607.7,591.7 614.3,584.6 620.9,574.2 627.4,574.2 634.0,557.5 640.6,542.0 647.2,559.8 653.8,571.0 660.4,584.8 667.0,558.3 673.5,520.3 680.1,520.3 686.7,494.0 693.3,494.0 699.9,473.2 706.5,454.6 713.1,445.9 719.7,473.6 726.2,478.2 732.8,500.1 739.4,499.1 746.0,420.3 752.6,409.5 759.2,404.6 765.8,393.4 772.4,382.7 778.9,378.8 785.5,335.8 792.1,403.1 798.7,445.9 805.3,465.2 811.9,468.8 818.5,449.0 825.1,440.8 831.6,418.7 838.2,418.7 844.8,407.4 851.4,406.0 858.0,400.0 864.6,389.1 871.2,367.2 877.7,373.0 884.3,373.0 890.9,327.4 897.5,318.0 904.1,313.7 910.7,313.7 917.3,337.7 923.9,346.3 930.4,345.2 937.0,346.4 943.6,296.7 950.2,299.7 956.8,273.5 963.4,269.8 970.0,285.9 976.6,284.3 983.1,284.3 989.7,282.9 996.3,309.9 1002.9,308.9 1009.5,285.8 1016.1,302.2 1022.7,302.2 1029.2,305.8 1035.8,305.8 1042.4,263.4 1049.0,285.6 1055.6,286.0 1062.2,285.9 1068.8,285.9 1075.4,293.3 1081.9,292.7 1088.5,292.7 1095.1,285.5 1101.7,287.4 1108.3,297.7 1114.9,278.8 1121.5,271.3 1128.1,295.0 1134.6,295.0 1141.2,287.2 1147.8,290.7 1154.4,291.5 1161.0,294.6 1167.6,294.6 1174.2,291.9 1180.7,294.5 1187.3,295.4 1193.9,293.5 1200.5,293.5 1207.1,297.3 1213.7,234.2 1220.3,230.6 1226.9,230.6 1233.4,230.6 1240.0,234.3 1246.6,233.8 1253.2,230.6 1259.8,230.6 1266.4,230.6 1273.0,230.6 1279.6,230.6 1286.1,230.6 1292.7,230.6 1299.3,230.6 1305.9,230.6 1312.5,230.6 1319.1,230.6 1325.7,230.6 1332.2,230.6 1338.8,230.6 1345.4,230.6 1352.0,230.6 1358.6,230.6 1365.2,230.6 1371.8,230.6 1378.4,230.6 1384.9,230.6 1391.5,230.6 1398.1,230.6 1404.7,230.6 1411.3,230.6 1417.9,230.6 1424.5,230.6 1431.1,230.6 1437.6,230.6 1444.2,230.6 1450.8,230.6 1457.4,230.6 1464.0,230.6 1470.6,230.6 1477.2,230.6 1483.8,230.6 1490.3,230.6 1496.9,230.6 1503.5,230.6 1510.1,230.6 1516.7,230.6 1523.3,240.4 1529.9,230.6 1536.4,230.6 1543.0,230.6 1549.6,238.4 1556.2,230.6 1562.8,230.6 1569.4,230.6 1576.0,230.6 1582.6,230.6 1589.1,230.6 1595.7,230.6 1602.3,230.6 1608.9,230.6 1615.5,230.6 1622.1,230.6 1628.7,230.6 1635.3,230.6 1641.8,230.6 1648.4,230.6 1655.0,230.6 1661.6,230.6 1668.2,230.6 1674.8,230.6 1681.4,230.6 1687.9,230.6 1694.5,230.6 1701.1,230.6 1707.7,230.6 1714.3,230.6 1720.9,230.6 1727.5,230.6 1734.1,230.6 1740.6,235.2 1747.2,230.6 1753.8,230.6 1760.4,230.6 1767.0,206.8 1773.6,195.6 1780.2,159.5 1786.8,159.5 1793.3,159.5 1799.9,159.5 1806.5,159.5 1813.1,159.5 1819.7,159.5 1826.3,159.5 1832.9,159.5 1839.4,159.5 1846.0,159.5 1852.6,159.5 1859.2,159.5 1865.8,159.5 1872.4,159.5 1879.0,159.5 1885.6,159.5 1892.1,159.5 1898.7,159.5 1905.3,159.5 1911.9,159.5 1918.5,159.5 1925.1,159.5 1931.7,159.5 1938.3,159.5 1944.8,159.5 1951.4,159.5 1958.0,159.5 1964.6,159.5 1971.2,159.5 1977.8,159.5 1984.4,159.5 1991.0,159.5 1997.5,159.5" stroke="#f21c1c"/>
<polyline points="1930.0,231.0 1940.0,229.0 1947.0,222.0 1953.5,155.6 1962.0,152.0 1970.7,147.0 1977.6,155.6 1990.5,89.5 1997.5,123.0" stroke="#a064cc"/>
<polyline points="344.6,969.8 351.5,936.8 358.4,982.1 368.0,942.3 384.5,939.5 392.8,925.8 401.0,876.3 409.3,895.5 417.5,868.0 425.8,873.5 431.3,898.3 439.5,868.0 450.5,824.0 458.8,857.0 469.8,802.0 478.0,802.0 488.2,777.2 502.0,763.4 507.5,799.2 515.7,744.2 524.0,774.4 529.5,716.7 540.5,708.5 546.0,725.0 554.2,722.2 562.5,656.2 573.5,639.7 579.8,584.8 590.0,580.0 600.0,560.0 613.8,516.7 628.9,511.0 640.3,475.1 655.4,448.7 662.9,482.7 678.1,463.8 700.8,384.4 712.1,392.0 731.0,444.9 749.9,361.7 761.2,369.3 787.7,335.3 795.0,400.0 805.0,470.0 815.0,420.0 830.0,400.0 845.0,390.0 860.0,370.0 875.0,360.0 890.0,340.0 905.0,320.0 920.0,330.0 940.0,300.0 955.0,280.0 965.0,232.0 975.0,250.0 990.0,260.0 1009.0,246.0 1030.0,260.0 1055.0,234.0 1081.0,230.0 1095.0,232.0 1110.0,240.0 1130.0,232.0 1150.0,240.0 1167.0,212.0 1180.0,235.0 1200.0,232.0" stroke="#a064cc"/>
<polyline points="805.0,480.0 812.0,420.0 818.0,373.0 826.0,365.0 832.0,348.0 842.0,362.0 846.0,330.0 856.0,363.0 870.0,369.0 878.0,357.0 884.0,318.0 896.0,318.0 902.0,322.0 910.0,350.0 918.0,354.0 930.0,346.0 938.0,326.0 946.0,302.0 954.0,290.0 962.0,258.0 969.0,270.0 977.0,256.0 985.0,262.0 991.0,250.0 999.0,290.0 1009.0,278.0 1021.0,290.0 1029.0,284.0 1041.0,296.0 1053.0,270.0 1065.0,266.0 1077.0,284.0 1089.0,278.0 1100.0,276.0 1120.0,260.0 1140.0,250.0 1160.0,265.0 1180.0,245.0 1200.0,255.0 1230.0,240.0 1260.0,255.0 1286.0,250.0" stroke="#00bcd4"/>
<polyline points="1293.0,369.0 1313.5,367.0 1333.9,367.0 1350.1,358.8 1358.2,342.6 1364.3,362.9 1378.6,367.0 1400.0,360.0 1420.0,345.0 1431.4,326.3 1439.5,340.5 1447.6,336.5 1463.9,356.8 1472.0,328.3 1486.3,310.1 1494.4,320.2 1506.6,312.1 1520.0,310.1 1528.9,308.0 1546.2,302.2 1586.6,302.2 1650.0,300.0 1713.6,300.0 1760.0,301.0 1800.0,300.0 1850.0,302.0 1900.0,300.0 1950.0,296.0 1960.0,285.0 1975.0,300.0 1997.5,298.0" stroke="#c2bd12"/>
<polyline points="343.6,1150.0 359.5,1151.0 361.8,1079.6 369.7,1078.5 377.6,1092.0 395.8,1095.5 400.3,1050.0 408.2,1047.8 417.3,1067.0 424.1,1009.3 429.8,1025.2 440.0,1020.6 447.9,1029.7 457.0,982.0 466.1,984.3 475.2,970.7 484.2,948.0 495.0,930.0 505.0,940.0 515.0,905.0 530.0,900.0 545.0,880.0 560.0,850.0 572.0,800.0 584.5,736.0 595.5,720.0 605.0,700.0 615.0,705.0 623.4,690.5 631.6,694.6 641.2,657.5 648.1,657.5 656.4,678.1 666.0,621.7 672.9,624.5 677.0,597.0 682.5,591.5 690.7,588.7 699.0,581.9 705.9,561.2 712.7,547.5 719.6,531.0 723.7,542.0 729.2,555.7 736.1,573.6 741.6,554.4 747.1,544.7 752.0,520.0 765.0,452.5 775.0,460.0 783.9,463.8 795.0,520.0 803.5,561.2 811.2,571.3 818.9,517.4 825.6,528.9 831.4,495.2 844.8,541.4 859.3,494.3 864.1,503.0 870.8,480.8 891.0,498.1 897.8,474.1 903.5,479.9 917.0,447.1 924.7,459.6 938.2,444.3 943.9,445.2 957.5,395.3 973.4,411.3 989.4,435.2 999.3,409.3 1009.3,399.3 1019.3,393.4 1029.2,401.3 1037.2,415.3 1050.0,390.0 1065.0,370.0 1080.0,350.0 1090.0,326.3 1102.2,318.2 1110.3,344.6 1120.5,371.0 1130.6,358.8 1142.8,338.5 1157.1,358.8 1171.3,369.0 1183.5,338.5 1195.7,352.7 1203.8,334.4 1216.0,340.5 1228.2,340.5 1240.4,334.4 1248.5,328.3 1262.7,334.4 1272.9,332.4 1281.0,320.2 1289.1,330.4 1293.2,367.0 1305.4,373.1 1325.7,380.2 1337.9,371.0 1354.2,367.0 1378.6,376.1 1384.7,358.8 1390.7,371.0 1396.8,344.6 1407.0,354.8 1415.1,350.7 1421.2,364.9 1431.4,342.6 1437.5,371.0 1459.8,371.0 1472.0,362.9 1480.2,326.3 1488.3,342.6 1496.4,354.8 1506.6,338.5 1520.0,346.6 1528.9,368.6 1557.7,368.6 1601.0,354.2 1609.7,351.3 1621.2,354.2 1628.4,308.0 1634.2,325.3 1647.2,302.2 1661.6,319.6 1673.2,305.1 1684.7,310.9 1702.0,305.1 1722.2,316.7 1730.9,325.3 1739.6,308.0 1754.0,308.0 1761.2,319.6 1767.0,302.2 1800.0,302.0 1850.0,303.0 1900.0,302.0 1950.0,302.0 1990.0,300.0 1997.5,302.0" stroke="#00bcd4"/>
<polyline points="343.6,1170.3 351.5,1159.0 358.4,1174.9 366.3,1161.2 384.4,1148.8 398.0,1161.2 404.8,1086.4 429.8,1072.8 443.4,1076.2 453.6,1075.0 461.5,1016.0 486.5,1003.6 501.0,1003.5 508.4,1007.2 517.1,1003.5 522.0,936.7 534.4,937.9 543.0,876.0 554.2,940.4 569.0,934.2 577.7,872.4 582.4,833.3 597.7,807.9 607.9,782.4 613.0,729.0 628.5,730.4 634.0,722.2 639.5,714.0 650.4,714.0 661.4,703.0 672.4,675.5 683.4,664.5 694.4,615.0 701.7,584.6 710.0,597.0 715.5,587.4 721.0,594.2 726.5,584.6 732.0,605.2 737.5,591.5 744.4,565.4 752.6,570.9 759.5,540.6 765.0,524.1 775.0,500.0 786.0,490.0 795.0,545.0 804.0,600.0 813.0,592.4 830.0,585.0 850.0,588.0 862.0,566.0 872.0,570.0 884.0,540.0 890.0,560.0 897.0,520.0 911.2,534.7 930.5,517.4 943.9,507.8 955.5,463.1 969.4,473.1 989.4,453.2 997.3,473.1 1009.3,445.2 1029.2,409.3 1041.2,407.3 1051.0,425.0 1058.0,438.0 1066.0,422.0 1076.0,426.0 1089.0,402.0 1099.0,422.0 1108.0,380.0 1120.0,405.0 1133.0,366.0 1141.0,361.0 1153.0,380.0 1161.0,357.0 1167.0,379.0 1177.0,363.0 1185.0,361.0 1192.0,373.0 1200.0,373.0 1208.0,351.0 1214.0,367.0 1224.0,343.0 1236.0,355.0 1250.0,371.0 1259.0,382.0 1267.0,368.0 1273.0,379.0 1285.0,377.0 1292.0,441.0 1318.0,440.0 1326.0,442.0 1332.0,426.0 1338.0,420.0 1345.0,427.0 1352.0,429.0 1359.0,418.0 1379.0,426.0 1384.0,424.0 1391.0,408.0 1398.0,410.0 1404.0,418.0 1411.0,410.0 1418.0,426.0 1430.0,410.0 1442.0,424.0 1450.0,409.0 1458.0,434.0 1464.0,402.0 1472.0,372.0 1480.0,376.0 1500.0,374.0 1560.0,376.0 1601.0,378.0 1621.0,363.0 1636.0,372.0 1662.0,375.0 1679.0,372.0 1696.0,376.0 1710.0,372.0 1719.4,328.2 1730.9,351.3 1739.6,339.8 1748.2,354.2 1759.8,342.6 1765.5,368.6 1790.0,370.0 1852.0,371.0 1872.3,362.8 1892.5,342.6 1912.7,351.3 1924.3,354.2 1933.0,368.6 1944.5,364.3 1953.1,319.6 1973.4,325.3 1982.0,316.7 1990.7,308.0 1997.5,310.0" stroke="#c2bd12"/>
<polyline points="343.6,1154.4 364.0,1155.6 370.8,1130.6 378.8,1138.6 384.4,1123.8 391.2,1154.4 398.0,1155.6 402.6,1047.8 416.2,1066.0 425.3,1041.0 432.0,1043.3 438.9,1027.4 449.1,1043.3 457.0,1002.5 475.2,975.3 486.5,961.7 496.0,960.0 508.4,976.0 518.3,940.0 529.5,945.0 541.0,925.0 554.2,903.6 562.5,881.6 568.0,851.4 579.0,801.9 592.7,793.7 601.0,774.4 609.2,727.7 623.0,725.0 634.0,716.7 645.4,685.0 652.2,690.5 660.5,712.5 666.0,664.4 671.5,658.9 679.7,656.1 685.2,643.7 689.4,630.0 693.5,597.0 699.0,591.5 707.2,605.2 712.7,584.6 718.2,586.0 726.5,581.9 733.4,587.4 738.9,581.9 744.4,568.1 749.9,553.0 755.4,537.9 762.0,520.0 770.0,505.0 779.0,495.0 786.4,475.0 794.2,535.1 798.0,577.7 804.0,590.0 811.7,603.9 820.0,586.0 838.1,583.8 851.6,587.6 857.3,585.7 864.1,558.7 870.8,561.6 877.6,552.0 884.3,526.0 890.1,552.0 896.8,504.9 911.2,518.3 917.0,490.4 930.5,507.8 937.2,480.8 943.9,502.9 956.4,447.1 969.4,465.1 982.4,447.1 989.4,445.2 997.3,465.1 1009.3,429.2 1019.3,421.3 1029.2,401.3 1041.2,395.3 1051.2,423.3 1057.1,435.2 1065.1,419.3 1075.1,423.3 1089.0,399.3 1099.0,419.3 1108.3,377.1 1120.5,402.5 1132.7,362.9 1140.8,358.8 1153.0,377.1 1161.1,354.8 1167.2,376.1 1177.4,360.9 1185.5,358.8 1191.6,371.0 1199.7,371.0 1207.9,348.7 1214.0,364.9 1224.1,340.5 1236.3,352.7 1250.5,369.0 1258.7,380.2 1266.8,365.9 1272.9,377.1 1285.1,375.1 1292.2,443.2 1317.7,441.8 1325.5,444.0 1331.9,424.1 1338.2,417.7 1345.3,429.8 1351.7,431.9 1358.8,416.3 1378.6,424.1 1384.3,422.0 1390.7,405.7 1398.5,407.8 1411.3,407.8 1417.6,428.4 1430.4,407.8 1442.5,426.2 1450.3,407.1 1458.0,437.6 1463.7,400.0 1470.0,385.0 1480.0,378.0 1500.0,374.4 1517.3,377.3 1543.3,381.6 1560.6,374.4 1577.9,377.3 1601.0,381.6 1621.2,361.4 1635.7,374.4 1661.6,377.3 1679.0,374.4 1696.3,378.7 1713.6,380.2 1728.0,368.6 1745.3,360.0 1759.8,355.6 1767.0,371.5 1788.6,371.5 1852.1,373.0 1865.1,361.4 1872.3,368.6 1886.8,357.1 1904.1,347.0 1909.8,368.6 1933.0,373.0 1944.5,368.6 1956.0,322.4 1964.7,338.3 1973.4,334.0 1984.9,345.5 1990.7,303.7 1997.5,303.7" stroke="#0a6fb6"/>
<polyline points="343.6,1168.0 357.2,1193.0 367.4,1163.5 384.4,1151.0 398.0,1164.6 407.1,1079.6 417.3,1092.0 429.8,1074.0 436.6,1101.0 447.9,1080.7 453.6,1054.6 466.1,1018.4 476.0,1020.0 483.7,1024.5 489.9,1004.7 496.0,915.0 502.3,1028.2 509.7,993.6 522.0,924.3 532.0,933.0 544.3,865.0 553.0,905.0 566.6,930.5 574.0,919.4 579.0,887.2 587.6,892.2 595.5,859.7 606.5,845.9 614.7,812.9 623.0,804.7 629.8,815.7 639.5,741.4 647.7,774.4 656.0,730.4 668.7,720.0 674.2,702.9 679.7,696.0 685.2,669.9 693.5,693.2 700.4,658.9 705.9,656.1 712.7,621.7 719.6,642.4 726.5,597.0 732.7,625.9 740.2,605.2 745.7,584.6 752.6,588.7 759.5,559.9 766.4,583.2 773.2,557.1 784.2,525.5 792.5,554.4 798.0,577.7 804.9,585.0 811.7,609.4 817.9,662.6 831.4,619.4 844.8,650.1 857.3,645.3 866.0,589.5 870.8,587.6 878.5,610.7 886.2,596.3 897.8,589.5 909.3,584.7 922.8,589.5 930.5,574.1 937.2,587.6 943.0,538.5 949.7,532.8 957.4,543.4 970.9,525.1 976.6,530.8 982.4,499.1 990.1,534.7 1002.6,501.0 1009.4,514.5 1022.8,520.3 1034.4,512.6 1048.8,484.7 1061.3,512.6 1074.8,500.1 1083.8,506.0 1098.6,501.0 1102.0,496.0 1107.7,477.9 1113.5,475.5 1120.1,469.7 1126.7,468.9 1134.9,460.6 1143.2,477.9 1148.1,482.9 1156.4,473.0 1161.3,470.5 1167.9,484.5 1176.2,465.6 1182.8,451.5 1191.0,449.1 1200.0,446.0 1206.4,489.3 1213.5,456.7 1220.6,486.5 1227.6,446.8 1233.3,434.0 1239.7,440.4 1246.8,436.9 1252.5,431.9 1259.5,461.0 1265.9,428.4 1273.0,452.5 1279.4,438.3 1285.8,456.7 1292.9,514.8 1333.3,515.6 1338.2,517.7 1345.3,497.8 1352.4,515.6 1500.0,514.8 1620.0,515.0 1625.0,508.0 1640.0,515.0 1660.0,506.0 1670.0,514.0 1688.0,514.0 1698.0,506.0 1710.0,512.0 1748.0,514.0 1754.0,500.0 1759.8,481.2 1765.5,479.7 1772.7,443.7 1797.3,442.2 1811.7,426.4 1826.1,442.2 1831.9,437.9 1875.2,439.3 1885.3,422.0 1898.3,442.2 1950.2,442.2 1957.5,432.1 1963.2,442.2 1971.9,432.1 1984.9,436.5 1997.5,443.7" stroke="#ff70c4"/>
</g>
<line x1="805.3" y1="1248.0" x2="805.3" y2="36.0" stroke="#000" stroke-width="3.6" stroke-dasharray="15.3 7.0"/>
<g stroke="#000" stroke-width="3.6" stroke-linecap="butt">
<line x1="243.5" y1="52.8" x2="262.0" y2="52.8"/><line x1="243.5" y1="230.6" x2="262.0" y2="230.6"/><line x1="243.5" y1="408.5" x2="262.0" y2="408.5"/><line x1="243.5" y1="586.3" x2="262.0" y2="586.3"/><line x1="243.5" y1="764.2" x2="262.0" y2="764.2"/><line x1="243.5" y1="942.0" x2="262.0" y2="942.0"/><line x1="243.5" y1="1119.9" x2="262.0" y2="1119.9"/><line x1="344.2" y1="1248.0" x2="344.2" y2="1266.5"/><line x1="673.5" y1="1248.0" x2="673.5" y2="1266.5"/><line x1="1002.9" y1="1248.0" x2="1002.9" y2="1266.5"/><line x1="1332.2" y1="1248.0" x2="1332.2" y2="1266.5"/><line x1="1661.6" y1="1248.0" x2="1661.6" y2="1266.5"/><line x1="1991.0" y1="1248.0" x2="1991.0" y2="1266.5"/>
</g>
<rect x="262.0" y="36.0" width="1818.5" height="1212.0" fill="none" stroke="#000" stroke-width="3.6"/>
<g font-size="66">
<text x="223" y="76.0" text-anchor="end" textLength="108" lengthAdjust="spacingAndGlyphs">4.15</text><text x="223" y="253.8" text-anchor="end" textLength="108" lengthAdjust="spacingAndGlyphs">4.10</text><text x="223" y="431.7" text-anchor="end" textLength="108" lengthAdjust="spacingAndGlyphs">4.05</text><text x="223" y="609.5" text-anchor="end" textLength="108" lengthAdjust="spacingAndGlyphs">4.00</text><text x="223" y="787.4" text-anchor="end" textLength="108" lengthAdjust="spacingAndGlyphs">3.95</text><text x="223" y="965.2" text-anchor="end" textLength="108" lengthAdjust="spacingAndGlyphs">3.90</text><text x="223" y="1143.1" text-anchor="end" textLength="108" lengthAdjust="spacingAndGlyphs">3.85</text>
<text x="344.2" y="1332" text-anchor="middle">0</text><text x="673.5" y="1332" text-anchor="middle">50</text><text x="1002.9" y="1332" text-anchor="middle">100</text><text x="1332.2" y="1332" text-anchor="middle">150</text><text x="1661.6" y="1332" text-anchor="middle">200</text><text x="1991.0" y="1332" text-anchor="middle">250</text>
<text x="1169" y="1416.4" text-anchor="middle" textLength="271" lengthAdjust="spacingAndGlyphs">Time(10s)</text>
<text transform="translate(76.5,643) rotate(-90)" text-anchor="middle" textLength="296" lengthAdjust="spacingAndGlyphs">Voltage(V)</text>
<text x="383" y="311.7" textLength="243" lengthAdjust="spacingAndGlyphs">Warning</text>
<text x="989.5" y="657.7" textLength="262.5" lengthAdjust="spacingAndGlyphs">Cell No.8</text>
<text x="1239.5" y="756.8" textLength="291.5" lengthAdjust="spacingAndGlyphs">Cell No.51</text>
<text x="1239.5" y="828.4" textLength="294" lengthAdjust="spacingAndGlyphs">Cell No.86</text>
<text x="1576" y="766" textLength="292.5" lengthAdjust="spacingAndGlyphs">Cell No.33</text>
<text x="1576" y="838.2" textLength="291" lengthAdjust="spacingAndGlyphs">Cell No.70</text>
</g>
<rect x="897" y="74.5" width="409.4" height="105" fill="#ff6666" stroke="#5e6262" stroke-width="4"/>
<text x="918.5" y="142.1" font-size="66" textLength="363" lengthAdjust="spacingAndGlyphs">MRE=0.155%</text>
<g stroke="#000" stroke-width="4.3" fill="none" stroke-linecap="butt" stroke-linejoin="miter">
<path d="M645 299.8 L791.7 299.8 M761.3 286.2 L791.7 299.8 L761.3 313.4"/>
<path d="M1141.5 590.9 L1194.3 459 M1172 480.4 L1194.3 459 L1196.8 491.1"/>
<path d="M1402.3 689.7 L1448 420.6 M1430.5 446.4 L1448 420.6 L1456.3 450.5"/>
<path d="M1705.8 698.7 L1630.2 325.3 M1624.2 355.6 L1630.2 325.3 L1649.9 351"/>
</g>
</svg>
</body></html>
